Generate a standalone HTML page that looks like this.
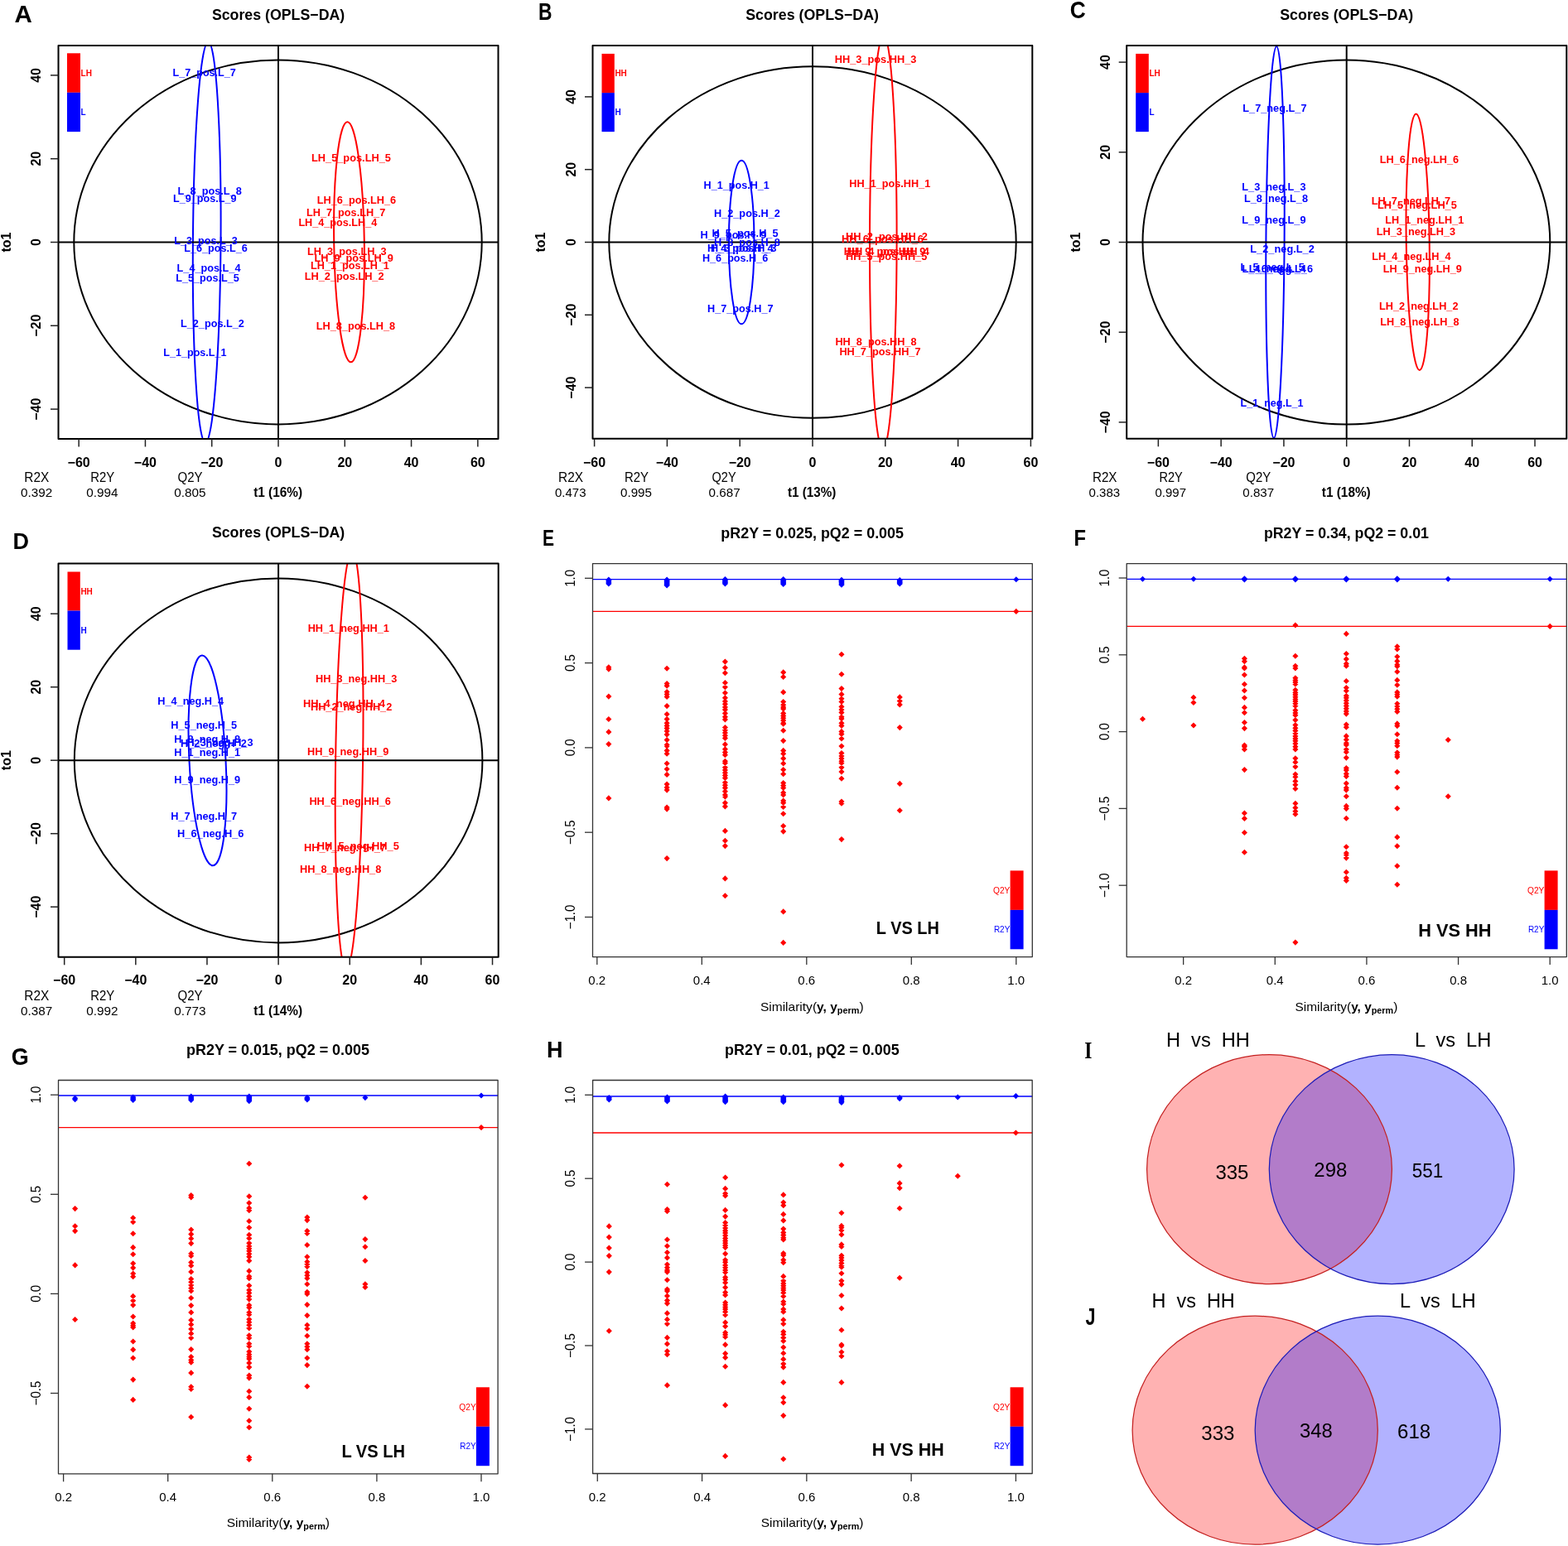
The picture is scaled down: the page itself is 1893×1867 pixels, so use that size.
<!DOCTYPE html>
<html><head><meta charset="utf-8"><title>OPLS-DA figure</title>
<style>
html,body{margin:0;padding:0;background:#fff;}
svg{display:block;}
text{font-family:'Liberation Sans', Arial, Helvetica, sans-serif;}
</style></head>
<body>
<svg width="1893" height="1867" viewBox="0 0 1893 1867">
<rect x="0" y="0" width="1893" height="1867" fill="#fff"/>
<clipPath id="c1"><rect x="70.50" y="54.90" width="531.00" height="475.10"/></clipPath>
<text x="17.50" y="27.40" style="font-size:29.50px;font-weight:bold;">A</text>
<text x="255.90" y="23.60" style="font-size:18.60px;font-weight:bold;" textLength="160.30" lengthAdjust="spacingAndGlyphs">Scores (OPLS−DA)</text>
<g clip-path="url(#c1)"><ellipse cx="335.50" cy="292.40" rx="246.20" ry="220.00" fill="none" stroke="#000" stroke-width="2.00" /></g>
<g clip-path="url(#c1)"><ellipse cx="249.70" cy="292.50" rx="16.80" ry="242.00" fill="none" stroke="#0000ff" stroke-width="2.00" transform="rotate(0.410 249.70 292.50)" /></g>
<g clip-path="url(#c1)"><ellipse cx="421.50" cy="292.30" rx="18.30" ry="145.00" fill="none" stroke="#ff0000" stroke-width="2.00" transform="rotate(-0.850 421.50 292.30)" /></g>
<line x1="336.00" y1="54.90" x2="336.00" y2="530.00" stroke="#000" stroke-width="2.00" />
<line x1="70.50" y1="292.50" x2="601.50" y2="292.50" stroke="#000" stroke-width="2.00" />
<text x="208.50" y="92.20" style="font-size:12.70px;font-weight:bold;" fill="#0000ff" textLength="76.30" lengthAdjust="spacingAndGlyphs">L_7_pos.L_7</text>
<text x="214.60" y="234.50" style="font-size:12.70px;font-weight:bold;" fill="#0000ff" textLength="77.20" lengthAdjust="spacingAndGlyphs">L_8_pos.L_8</text>
<text x="209.00" y="243.80" style="font-size:12.70px;font-weight:bold;" fill="#0000ff" textLength="76.50" lengthAdjust="spacingAndGlyphs">L_9_pos.L_9</text>
<text x="210.30" y="295.40" style="font-size:12.70px;font-weight:bold;" fill="#0000ff" textLength="76.50" lengthAdjust="spacingAndGlyphs">L_3_pos.L_3</text>
<text x="222.30" y="304.40" style="font-size:12.70px;font-weight:bold;" fill="#0000ff" textLength="76.50" lengthAdjust="spacingAndGlyphs">L_6_pos.L_6</text>
<text x="213.60" y="328.00" style="font-size:12.70px;font-weight:bold;" fill="#0000ff" textLength="76.90" lengthAdjust="spacingAndGlyphs">L_4_pos.L_4</text>
<text x="212.30" y="339.60" style="font-size:12.70px;font-weight:bold;" fill="#0000ff" textLength="76.50" lengthAdjust="spacingAndGlyphs">L_5_pos.L_5</text>
<text x="218.00" y="394.50" style="font-size:12.70px;font-weight:bold;" fill="#0000ff" textLength="76.80" lengthAdjust="spacingAndGlyphs">L_2_pos.L_2</text>
<text x="197.30" y="430.20" style="font-size:12.70px;font-weight:bold;" fill="#0000ff" textLength="76.20" lengthAdjust="spacingAndGlyphs">L_1_pos.L_1</text>
<text x="376.00" y="194.90" style="font-size:12.70px;font-weight:bold;" fill="#ff0000" textLength="95.90" lengthAdjust="spacingAndGlyphs">LH_5_pos.LH_5</text>
<text x="382.70" y="246.20" style="font-size:12.70px;font-weight:bold;" fill="#ff0000" textLength="95.50" lengthAdjust="spacingAndGlyphs">LH_6_pos.LH_6</text>
<text x="370.00" y="261.40" style="font-size:12.70px;font-weight:bold;" fill="#ff0000" textLength="95.20" lengthAdjust="spacingAndGlyphs">LH_7_pos.LH_7</text>
<text x="360.40" y="273.10" style="font-size:12.70px;font-weight:bold;" fill="#ff0000" textLength="94.80" lengthAdjust="spacingAndGlyphs">LH_4_pos.LH_4</text>
<text x="371.00" y="307.70" style="font-size:12.70px;font-weight:bold;" fill="#ff0000" textLength="95.60" lengthAdjust="spacingAndGlyphs">LH_3_pos.LH_3</text>
<text x="379.40" y="316.00" style="font-size:12.70px;font-weight:bold;" fill="#ff0000" textLength="95.50" lengthAdjust="spacingAndGlyphs">LH_9_pos.LH_9</text>
<text x="375.00" y="325.30" style="font-size:12.70px;font-weight:bold;" fill="#ff0000" textLength="94.90" lengthAdjust="spacingAndGlyphs">LH_1_pos.LH_1</text>
<text x="367.70" y="338.00" style="font-size:12.70px;font-weight:bold;" fill="#ff0000" textLength="95.90" lengthAdjust="spacingAndGlyphs">LH_2_pos.LH_2</text>
<text x="381.70" y="397.50" style="font-size:12.70px;font-weight:bold;" fill="#ff0000" textLength="95.50" lengthAdjust="spacingAndGlyphs">LH_8_pos.LH_8</text>
<rect x="81.00" y="64.30" width="16.00" height="47.50" fill="#ff0000" />
<rect x="81.00" y="111.80" width="16.00" height="47.30" fill="#0000ff" />
<text x="97.60" y="91.65" style="font-size:10.00px;font-weight:bold;" fill="#ff0000">LH</text>
<text x="97.60" y="139.05" style="font-size:10.00px;font-weight:bold;" fill="#0000ff">L</text>
<rect x="70.50" y="54.90" width="531.00" height="475.10" fill="none" stroke="#000" stroke-width="2.00" stroke-linejoin="round"/>
<line x1="95.16" y1="530.00" x2="95.16" y2="539.50" stroke="#222" stroke-width="1.50" />
<text x="95.16" y="563.50" style="font-size:16.00px;font-weight:bold;" text-anchor="middle">−60</text>
<line x1="175.44" y1="530.00" x2="175.44" y2="539.50" stroke="#222" stroke-width="1.50" />
<text x="175.44" y="563.50" style="font-size:16.00px;font-weight:bold;" text-anchor="middle">−40</text>
<line x1="255.72" y1="530.00" x2="255.72" y2="539.50" stroke="#222" stroke-width="1.50" />
<text x="255.72" y="563.50" style="font-size:16.00px;font-weight:bold;" text-anchor="middle">−20</text>
<line x1="336.00" y1="530.00" x2="336.00" y2="539.50" stroke="#222" stroke-width="1.50" />
<text x="336.00" y="563.50" style="font-size:16.00px;font-weight:bold;" text-anchor="middle">0</text>
<line x1="416.28" y1="530.00" x2="416.28" y2="539.50" stroke="#222" stroke-width="1.50" />
<text x="416.28" y="563.50" style="font-size:16.00px;font-weight:bold;" text-anchor="middle">20</text>
<line x1="496.56" y1="530.00" x2="496.56" y2="539.50" stroke="#222" stroke-width="1.50" />
<text x="496.56" y="563.50" style="font-size:16.00px;font-weight:bold;" text-anchor="middle">40</text>
<line x1="576.84" y1="530.00" x2="576.84" y2="539.50" stroke="#222" stroke-width="1.50" />
<text x="576.84" y="563.50" style="font-size:16.00px;font-weight:bold;" text-anchor="middle">60</text>
<line x1="70.50" y1="494.10" x2="61.00" y2="494.10" stroke="#222" stroke-width="1.50" />
<text transform="translate(49.30,494.10) rotate(-90)" x="0" y="0" style="font-size:16.00px;font-weight:bold;" text-anchor="middle">−40</text>
<line x1="70.50" y1="393.30" x2="61.00" y2="393.30" stroke="#222" stroke-width="1.50" />
<text transform="translate(49.30,393.30) rotate(-90)" x="0" y="0" style="font-size:16.00px;font-weight:bold;" text-anchor="middle">−20</text>
<line x1="70.50" y1="292.50" x2="61.00" y2="292.50" stroke="#222" stroke-width="1.50" />
<text transform="translate(49.30,292.50) rotate(-90)" x="0" y="0" style="font-size:16.00px;font-weight:bold;" text-anchor="middle">0</text>
<line x1="70.50" y1="191.70" x2="61.00" y2="191.70" stroke="#222" stroke-width="1.50" />
<text transform="translate(49.30,191.70) rotate(-90)" x="0" y="0" style="font-size:16.00px;font-weight:bold;" text-anchor="middle">20</text>
<line x1="70.50" y1="90.90" x2="61.00" y2="90.90" stroke="#222" stroke-width="1.50" />
<text transform="translate(49.30,90.90) rotate(-90)" x="0" y="0" style="font-size:16.00px;font-weight:bold;" text-anchor="middle">40</text>
<text transform="translate(13.30,292.50) rotate(-90)" x="0" y="0" style="font-size:16.00px;font-weight:bold;" text-anchor="middle">to1</text>
<text x="29.30" y="581.90" style="font-size:16.20px;" textLength="29.90" lengthAdjust="spacingAndGlyphs">R2X</text>
<text x="109.20" y="581.90" style="font-size:16.20px;" textLength="28.90" lengthAdjust="spacingAndGlyphs">R2Y</text>
<text x="214.60" y="581.90" style="font-size:16.20px;" textLength="30.00" lengthAdjust="spacingAndGlyphs">Q2Y</text>
<text x="25.00" y="600.30" style="font-size:15.40px;" textLength="38.20" lengthAdjust="spacingAndGlyphs">0.392</text>
<text x="104.20" y="600.30" style="font-size:15.40px;" textLength="38.20" lengthAdjust="spacingAndGlyphs">0.994</text>
<text x="210.30" y="600.30" style="font-size:15.40px;" textLength="38.30" lengthAdjust="spacingAndGlyphs">0.805</text>
<text x="306.20" y="600.30" style="font-size:16.00px;font-weight:bold;" textLength="58.90" lengthAdjust="spacingAndGlyphs">t1 (16%)</text>
<clipPath id="c2"><rect x="715.50" y="54.90" width="530.80" height="474.90"/></clipPath>
<text x="650.00" y="23.80" style="font-size:29.00px;font-weight:bold;" textLength="16.50" lengthAdjust="spacingAndGlyphs">B</text>
<text x="900.20" y="23.60" style="font-size:18.60px;font-weight:bold;" textLength="160.80" lengthAdjust="spacingAndGlyphs">Scores (OPLS−DA)</text>
<g clip-path="url(#c2)"><ellipse cx="981.00" cy="292.50" rx="245.70" ry="212.30" fill="none" stroke="#000" stroke-width="2.00" /></g>
<g clip-path="url(#c2)"><ellipse cx="895.20" cy="292.50" rx="15.30" ry="98.80" fill="none" stroke="#0000ff" stroke-width="2.00" /></g>
<g clip-path="url(#c2)"><ellipse cx="1066.30" cy="292.50" rx="16.30" ry="250.00" fill="none" stroke="#ff0000" stroke-width="2.00" transform="rotate(0.100 1066.30 292.50)" /></g>
<line x1="981.00" y1="54.90" x2="981.00" y2="529.80" stroke="#000" stroke-width="2.00" />
<line x1="715.50" y1="292.50" x2="1246.30" y2="292.50" stroke="#000" stroke-width="2.00" />
<text x="849.60" y="228.20" style="font-size:12.70px;font-weight:bold;" fill="#0000ff" textLength="79.20" lengthAdjust="spacingAndGlyphs">H_1_pos.H_1</text>
<text x="862.00" y="262.40" style="font-size:12.70px;font-weight:bold;" fill="#0000ff" textLength="79.80" lengthAdjust="spacingAndGlyphs">H_2_pos.H_2</text>
<text x="859.60" y="286.40" style="font-size:12.70px;font-weight:bold;" fill="#0000ff" textLength="79.90" lengthAdjust="spacingAndGlyphs">H_5_pos.H_5</text>
<text x="845.60" y="287.70" style="font-size:12.70px;font-weight:bold;" fill="#0000ff" textLength="79.70" lengthAdjust="spacingAndGlyphs">H_9_pos.H_9</text>
<text x="862.00" y="296.50" style="font-size:12.70px;font-weight:bold;" fill="#0000ff" textLength="79.80" lengthAdjust="spacingAndGlyphs">H_8_pos.H_8</text>
<text x="854.00" y="303.70" style="font-size:12.70px;font-weight:bold;" fill="#0000ff" textLength="79.50" lengthAdjust="spacingAndGlyphs">H_4_pos.H_4</text>
<text x="858.00" y="304.20" style="font-size:12.70px;font-weight:bold;" fill="#0000ff" textLength="79.50" lengthAdjust="spacingAndGlyphs">H_3_pos.H_3</text>
<text x="848.00" y="316.30" style="font-size:12.70px;font-weight:bold;" fill="#0000ff" textLength="79.20" lengthAdjust="spacingAndGlyphs">H_6_pos.H_6</text>
<text x="854.00" y="376.90" style="font-size:12.70px;font-weight:bold;" fill="#0000ff" textLength="79.50" lengthAdjust="spacingAndGlyphs">H_7_pos.H_7</text>
<text x="1007.70" y="75.70" style="font-size:12.70px;font-weight:bold;" fill="#ff0000" textLength="98.80" lengthAdjust="spacingAndGlyphs">HH_3_pos.HH_3</text>
<text x="1025.30" y="225.50" style="font-size:12.70px;font-weight:bold;" fill="#ff0000" textLength="97.90" lengthAdjust="spacingAndGlyphs">HH_1_pos.HH_1</text>
<text x="1021.00" y="289.70" style="font-size:12.70px;font-weight:bold;" fill="#ff0000" textLength="99.00" lengthAdjust="spacingAndGlyphs">HH_2_pos.HH_2</text>
<text x="1016.00" y="293.00" style="font-size:12.70px;font-weight:bold;" fill="#ff0000" textLength="99.00" lengthAdjust="spacingAndGlyphs">HH_6_pos.HH_6</text>
<text x="1018.70" y="307.70" style="font-size:12.70px;font-weight:bold;" fill="#ff0000" textLength="98.80" lengthAdjust="spacingAndGlyphs">HH_9_pos.HH_9</text>
<text x="1022.70" y="307.70" style="font-size:12.70px;font-weight:bold;" fill="#ff0000" textLength="99.10" lengthAdjust="spacingAndGlyphs">HH_4_pos.HH_4</text>
<text x="1021.00" y="314.20" style="font-size:12.70px;font-weight:bold;" fill="#ff0000" textLength="98.20" lengthAdjust="spacingAndGlyphs">HH_5_pos.HH_5</text>
<text x="1008.40" y="416.80" style="font-size:12.70px;font-weight:bold;" fill="#ff0000" textLength="98.10" lengthAdjust="spacingAndGlyphs">HH_8_pos.HH_8</text>
<text x="1013.40" y="428.80" style="font-size:12.70px;font-weight:bold;" fill="#ff0000" textLength="98.10" lengthAdjust="spacingAndGlyphs">HH_7_pos.HH_7</text>
<rect x="726.50" y="64.90" width="15.30" height="47.20" fill="#ff0000" />
<rect x="726.50" y="112.10" width="15.30" height="47.00" fill="#0000ff" />
<text x="742.40" y="92.10" style="font-size:10.00px;font-weight:bold;" fill="#ff0000">HH</text>
<text x="742.40" y="139.20" style="font-size:10.00px;font-weight:bold;" fill="#0000ff">H</text>
<rect x="715.50" y="54.90" width="530.80" height="474.90" fill="none" stroke="#000" stroke-width="2.00" stroke-linejoin="round"/>
<line x1="717.60" y1="529.80" x2="717.60" y2="539.30" stroke="#222" stroke-width="1.50" />
<text x="717.60" y="563.50" style="font-size:16.00px;font-weight:bold;" text-anchor="middle">−60</text>
<line x1="805.40" y1="529.80" x2="805.40" y2="539.30" stroke="#222" stroke-width="1.50" />
<text x="805.40" y="563.50" style="font-size:16.00px;font-weight:bold;" text-anchor="middle">−40</text>
<line x1="893.20" y1="529.80" x2="893.20" y2="539.30" stroke="#222" stroke-width="1.50" />
<text x="893.20" y="563.50" style="font-size:16.00px;font-weight:bold;" text-anchor="middle">−20</text>
<line x1="981.00" y1="529.80" x2="981.00" y2="539.30" stroke="#222" stroke-width="1.50" />
<text x="981.00" y="563.50" style="font-size:16.00px;font-weight:bold;" text-anchor="middle">0</text>
<line x1="1068.80" y1="529.80" x2="1068.80" y2="539.30" stroke="#222" stroke-width="1.50" />
<text x="1068.80" y="563.50" style="font-size:16.00px;font-weight:bold;" text-anchor="middle">20</text>
<line x1="1156.60" y1="529.80" x2="1156.60" y2="539.30" stroke="#222" stroke-width="1.50" />
<text x="1156.60" y="563.50" style="font-size:16.00px;font-weight:bold;" text-anchor="middle">40</text>
<line x1="1244.40" y1="529.80" x2="1244.40" y2="539.30" stroke="#222" stroke-width="1.50" />
<text x="1244.40" y="563.50" style="font-size:16.00px;font-weight:bold;" text-anchor="middle">60</text>
<line x1="715.50" y1="468.10" x2="706.00" y2="468.10" stroke="#222" stroke-width="1.50" />
<text transform="translate(695.00,468.10) rotate(-90)" x="0" y="0" style="font-size:16.00px;font-weight:bold;" text-anchor="middle">−40</text>
<line x1="715.50" y1="380.30" x2="706.00" y2="380.30" stroke="#222" stroke-width="1.50" />
<text transform="translate(695.00,380.30) rotate(-90)" x="0" y="0" style="font-size:16.00px;font-weight:bold;" text-anchor="middle">−20</text>
<line x1="715.50" y1="292.50" x2="706.00" y2="292.50" stroke="#222" stroke-width="1.50" />
<text transform="translate(695.00,292.50) rotate(-90)" x="0" y="0" style="font-size:16.00px;font-weight:bold;" text-anchor="middle">0</text>
<line x1="715.50" y1="204.70" x2="706.00" y2="204.70" stroke="#222" stroke-width="1.50" />
<text transform="translate(695.00,204.70) rotate(-90)" x="0" y="0" style="font-size:16.00px;font-weight:bold;" text-anchor="middle">20</text>
<line x1="715.50" y1="116.90" x2="706.00" y2="116.90" stroke="#222" stroke-width="1.50" />
<text transform="translate(695.00,116.90) rotate(-90)" x="0" y="0" style="font-size:16.00px;font-weight:bold;" text-anchor="middle">40</text>
<text transform="translate(658.30,292.50) rotate(-90)" x="0" y="0" style="font-size:16.00px;font-weight:bold;" text-anchor="middle">to1</text>
<text x="674.00" y="581.90" style="font-size:16.20px;" textLength="30.00" lengthAdjust="spacingAndGlyphs">R2X</text>
<text x="754.00" y="581.90" style="font-size:16.20px;" textLength="29.00" lengthAdjust="spacingAndGlyphs">R2Y</text>
<text x="859.60" y="581.90" style="font-size:16.20px;" textLength="29.00" lengthAdjust="spacingAndGlyphs">Q2Y</text>
<text x="670.00" y="600.30" style="font-size:15.40px;" textLength="37.50" lengthAdjust="spacingAndGlyphs">0.473</text>
<text x="749.00" y="600.30" style="font-size:15.40px;" textLength="38.00" lengthAdjust="spacingAndGlyphs">0.995</text>
<text x="855.60" y="600.30" style="font-size:15.40px;" textLength="38.00" lengthAdjust="spacingAndGlyphs">0.687</text>
<text x="951.00" y="600.30" style="font-size:16.00px;font-weight:bold;" textLength="58.40" lengthAdjust="spacingAndGlyphs">t1 (13%)</text>
<clipPath id="c3"><rect x="1360.20" y="54.90" width="531.10" height="474.90"/></clipPath>
<text x="1291.80" y="22.30" style="font-size:30.00px;font-weight:bold;" textLength="19.00" lengthAdjust="spacingAndGlyphs">C</text>
<text x="1545.20" y="23.60" style="font-size:18.60px;font-weight:bold;" textLength="161.10" lengthAdjust="spacingAndGlyphs">Scores (OPLS−DA)</text>
<g clip-path="url(#c3)"><ellipse cx="1625.40" cy="292.50" rx="245.90" ry="220.00" fill="none" stroke="#000" stroke-width="2.00" /></g>
<g clip-path="url(#c3)"><ellipse cx="1539.50" cy="292.50" rx="11.10" ry="236.50" fill="none" stroke="#0000ff" stroke-width="2.00" transform="rotate(0.390 1539.50 292.50)" /></g>
<g clip-path="url(#c3)"><ellipse cx="1711.70" cy="292.20" rx="14.00" ry="154.80" fill="none" stroke="#ff0000" stroke-width="2.00" transform="rotate(-0.800 1711.70 292.20)" /></g>
<line x1="1625.70" y1="54.90" x2="1625.70" y2="529.80" stroke="#000" stroke-width="2.00" />
<line x1="1360.20" y1="292.50" x2="1891.30" y2="292.50" stroke="#000" stroke-width="2.00" />
<text x="1500.30" y="135.00" style="font-size:12.70px;font-weight:bold;" fill="#0000ff" textLength="77.20" lengthAdjust="spacingAndGlyphs">L_7_neg.L_7</text>
<text x="1499.30" y="229.50" style="font-size:12.70px;font-weight:bold;" fill="#0000ff" textLength="77.20" lengthAdjust="spacingAndGlyphs">L_3_neg.L_3</text>
<text x="1502.00" y="243.80" style="font-size:12.70px;font-weight:bold;" fill="#0000ff" textLength="77.00" lengthAdjust="spacingAndGlyphs">L_8_neg.L_8</text>
<text x="1499.30" y="270.40" style="font-size:12.70px;font-weight:bold;" fill="#0000ff" textLength="77.20" lengthAdjust="spacingAndGlyphs">L_9_neg.L_9</text>
<text x="1509.30" y="305.40" style="font-size:12.70px;font-weight:bold;" fill="#0000ff" textLength="77.50" lengthAdjust="spacingAndGlyphs">L_2_neg.L_2</text>
<text x="1497.60" y="327.20" style="font-size:12.70px;font-weight:bold;" fill="#0000ff" textLength="77.20" lengthAdjust="spacingAndGlyphs">L_5_neg.L_5</text>
<text x="1499.50" y="329.20" style="font-size:12.70px;font-weight:bold;" fill="#0000ff" textLength="77.50" lengthAdjust="spacingAndGlyphs">L_4_neg.L_4</text>
<text x="1507.80" y="329.20" style="font-size:12.70px;font-weight:bold;" fill="#0000ff" textLength="77.20" lengthAdjust="spacingAndGlyphs">L_6_neg.L_6</text>
<text x="1497.60" y="490.70" style="font-size:12.70px;font-weight:bold;" fill="#0000ff" textLength="75.90" lengthAdjust="spacingAndGlyphs">L_1_neg.L_1</text>
<text x="1665.70" y="196.50" style="font-size:12.70px;font-weight:bold;" fill="#ff0000" textLength="95.50" lengthAdjust="spacingAndGlyphs">LH_6_neg.LH_6</text>
<text x="1655.70" y="247.20" style="font-size:12.70px;font-weight:bold;" fill="#ff0000" textLength="95.50" lengthAdjust="spacingAndGlyphs">LH_7_neg.LH_7</text>
<text x="1663.00" y="252.20" style="font-size:12.70px;font-weight:bold;" fill="#ff0000" textLength="95.80" lengthAdjust="spacingAndGlyphs">LH_5_neg.LH_5</text>
<text x="1672.30" y="270.40" style="font-size:12.70px;font-weight:bold;" fill="#ff0000" textLength="94.90" lengthAdjust="spacingAndGlyphs">LH_1_neg.LH_1</text>
<text x="1661.70" y="284.40" style="font-size:12.70px;font-weight:bold;" fill="#ff0000" textLength="95.50" lengthAdjust="spacingAndGlyphs">LH_3_neg.LH_3</text>
<text x="1656.30" y="314.30" style="font-size:12.70px;font-weight:bold;" fill="#ff0000" textLength="95.20" lengthAdjust="spacingAndGlyphs">LH_4_neg.LH_4</text>
<text x="1669.70" y="328.70" style="font-size:12.70px;font-weight:bold;" fill="#ff0000" textLength="95.10" lengthAdjust="spacingAndGlyphs">LH_9_neg.LH_9</text>
<text x="1665.00" y="373.60" style="font-size:12.70px;font-weight:bold;" fill="#ff0000" textLength="95.50" lengthAdjust="spacingAndGlyphs">LH_2_neg.LH_2</text>
<text x="1666.30" y="392.90" style="font-size:12.70px;font-weight:bold;" fill="#ff0000" textLength="95.20" lengthAdjust="spacingAndGlyphs">LH_8_neg.LH_8</text>
<rect x="1371.20" y="64.90" width="15.60" height="47.20" fill="#ff0000" />
<rect x="1371.20" y="112.10" width="15.60" height="47.00" fill="#0000ff" />
<text x="1387.40" y="92.10" style="font-size:10.00px;font-weight:bold;" fill="#ff0000">LH</text>
<text x="1387.40" y="139.20" style="font-size:10.00px;font-weight:bold;" fill="#0000ff">L</text>
<rect x="1360.20" y="54.90" width="531.10" height="474.90" fill="none" stroke="#000" stroke-width="2.00" stroke-linejoin="round"/>
<line x1="1398.36" y1="529.80" x2="1398.36" y2="539.30" stroke="#222" stroke-width="1.50" />
<text x="1398.36" y="563.50" style="font-size:16.00px;font-weight:bold;" text-anchor="middle">−60</text>
<line x1="1474.14" y1="529.80" x2="1474.14" y2="539.30" stroke="#222" stroke-width="1.50" />
<text x="1474.14" y="563.50" style="font-size:16.00px;font-weight:bold;" text-anchor="middle">−40</text>
<line x1="1549.92" y1="529.80" x2="1549.92" y2="539.30" stroke="#222" stroke-width="1.50" />
<text x="1549.92" y="563.50" style="font-size:16.00px;font-weight:bold;" text-anchor="middle">−20</text>
<line x1="1625.70" y1="529.80" x2="1625.70" y2="539.30" stroke="#222" stroke-width="1.50" />
<text x="1625.70" y="563.50" style="font-size:16.00px;font-weight:bold;" text-anchor="middle">0</text>
<line x1="1701.48" y1="529.80" x2="1701.48" y2="539.30" stroke="#222" stroke-width="1.50" />
<text x="1701.48" y="563.50" style="font-size:16.00px;font-weight:bold;" text-anchor="middle">20</text>
<line x1="1777.26" y1="529.80" x2="1777.26" y2="539.30" stroke="#222" stroke-width="1.50" />
<text x="1777.26" y="563.50" style="font-size:16.00px;font-weight:bold;" text-anchor="middle">40</text>
<line x1="1853.04" y1="529.80" x2="1853.04" y2="539.30" stroke="#222" stroke-width="1.50" />
<text x="1853.04" y="563.50" style="font-size:16.00px;font-weight:bold;" text-anchor="middle">60</text>
<line x1="1360.20" y1="509.90" x2="1350.70" y2="509.90" stroke="#222" stroke-width="1.50" />
<text transform="translate(1339.50,509.90) rotate(-90)" x="0" y="0" style="font-size:16.00px;font-weight:bold;" text-anchor="middle">−40</text>
<line x1="1360.20" y1="401.20" x2="1350.70" y2="401.20" stroke="#222" stroke-width="1.50" />
<text transform="translate(1339.50,401.20) rotate(-90)" x="0" y="0" style="font-size:16.00px;font-weight:bold;" text-anchor="middle">−20</text>
<line x1="1360.20" y1="292.50" x2="1350.70" y2="292.50" stroke="#222" stroke-width="1.50" />
<text transform="translate(1339.50,292.50) rotate(-90)" x="0" y="0" style="font-size:16.00px;font-weight:bold;" text-anchor="middle">0</text>
<line x1="1360.20" y1="183.80" x2="1350.70" y2="183.80" stroke="#222" stroke-width="1.50" />
<text transform="translate(1339.50,183.80) rotate(-90)" x="0" y="0" style="font-size:16.00px;font-weight:bold;" text-anchor="middle">20</text>
<line x1="1360.20" y1="75.10" x2="1350.70" y2="75.10" stroke="#222" stroke-width="1.50" />
<text transform="translate(1339.50,75.10) rotate(-90)" x="0" y="0" style="font-size:16.00px;font-weight:bold;" text-anchor="middle">40</text>
<text transform="translate(1303.60,292.50) rotate(-90)" x="0" y="0" style="font-size:16.00px;font-weight:bold;" text-anchor="middle">to1</text>
<text x="1318.90" y="581.90" style="font-size:16.20px;" textLength="29.60" lengthAdjust="spacingAndGlyphs">R2X</text>
<text x="1399.40" y="581.90" style="font-size:16.20px;" textLength="28.30" lengthAdjust="spacingAndGlyphs">R2Y</text>
<text x="1504.30" y="581.90" style="font-size:16.20px;" textLength="29.90" lengthAdjust="spacingAndGlyphs">Q2Y</text>
<text x="1314.60" y="600.30" style="font-size:15.40px;" textLength="37.60" lengthAdjust="spacingAndGlyphs">0.383</text>
<text x="1394.40" y="600.30" style="font-size:15.40px;" textLength="37.60" lengthAdjust="spacingAndGlyphs">0.997</text>
<text x="1500.30" y="600.30" style="font-size:15.40px;" textLength="37.90" lengthAdjust="spacingAndGlyphs">0.837</text>
<text x="1595.80" y="600.30" style="font-size:16.00px;font-weight:bold;" textLength="58.90" lengthAdjust="spacingAndGlyphs">t1 (18%)</text>
<clipPath id="c4"><rect x="70.50" y="680.60" width="531.20" height="475.20"/></clipPath>
<text x="15.50" y="662.60" style="font-size:27.00px;font-weight:bold;">D</text>
<text x="255.90" y="649.30" style="font-size:18.60px;font-weight:bold;" textLength="160.30" lengthAdjust="spacingAndGlyphs">Scores (OPLS−DA)</text>
<g clip-path="url(#c4)"><ellipse cx="336.10" cy="918.40" rx="246.30" ry="220.00" fill="none" stroke="#000" stroke-width="2.00" /></g>
<g clip-path="url(#c4)"><ellipse cx="250.50" cy="918.40" rx="22.00" ry="127.00" fill="none" stroke="#0000ff" stroke-width="2.00" transform="rotate(-3.000 250.50 918.40)" /></g>
<g clip-path="url(#c4)"><ellipse cx="421.60" cy="918.20" rx="16.50" ry="252.70" fill="none" stroke="#ff0000" stroke-width="2.00" transform="rotate(0.820 421.60 918.20)" /></g>
<line x1="336.10" y1="680.60" x2="336.10" y2="1155.80" stroke="#000" stroke-width="2.00" />
<line x1="70.50" y1="918.20" x2="601.70" y2="918.20" stroke="#000" stroke-width="2.00" />
<text x="190.30" y="850.50" style="font-size:12.70px;font-weight:bold;" fill="#0000ff" textLength="79.90" lengthAdjust="spacingAndGlyphs">H_4_neg.H_4</text>
<text x="206.30" y="880.40" style="font-size:12.70px;font-weight:bold;" fill="#0000ff" textLength="79.90" lengthAdjust="spacingAndGlyphs">H_5_neg.H_5</text>
<text x="210.30" y="897.10" style="font-size:12.70px;font-weight:bold;" fill="#0000ff" textLength="79.90" lengthAdjust="spacingAndGlyphs">H_8_neg.H_8</text>
<text x="218.00" y="902.10" style="font-size:12.70px;font-weight:bold;" fill="#0000ff" textLength="79.90" lengthAdjust="spacingAndGlyphs">H_2_neg.H_2</text>
<text x="225.50" y="901.20" style="font-size:12.70px;font-weight:bold;" fill="#0000ff" textLength="80.00" lengthAdjust="spacingAndGlyphs">H_3_neg.H_3</text>
<text x="210.30" y="913.10" style="font-size:12.70px;font-weight:bold;" fill="#0000ff" textLength="79.90" lengthAdjust="spacingAndGlyphs">H_1_neg.H_1</text>
<text x="210.30" y="946.00" style="font-size:12.70px;font-weight:bold;" fill="#0000ff" textLength="79.90" lengthAdjust="spacingAndGlyphs">H_9_neg.H_9</text>
<text x="206.30" y="990.20" style="font-size:12.70px;font-weight:bold;" fill="#0000ff" textLength="79.90" lengthAdjust="spacingAndGlyphs">H_7_neg.H_7</text>
<text x="214.00" y="1010.90" style="font-size:12.70px;font-weight:bold;" fill="#0000ff" textLength="80.50" lengthAdjust="spacingAndGlyphs">H_6_neg.H_6</text>
<text x="371.70" y="763.30" style="font-size:12.70px;font-weight:bold;" fill="#ff0000" textLength="98.20" lengthAdjust="spacingAndGlyphs">HH_1_neg.HH_1</text>
<text x="381.00" y="823.90" style="font-size:12.70px;font-weight:bold;" fill="#ff0000" textLength="98.20" lengthAdjust="spacingAndGlyphs">HH_3_neg.HH_3</text>
<text x="366.00" y="853.80" style="font-size:12.70px;font-weight:bold;" fill="#ff0000" textLength="98.90" lengthAdjust="spacingAndGlyphs">HH_4_neg.HH_4</text>
<text x="375.00" y="858.20" style="font-size:12.70px;font-weight:bold;" fill="#ff0000" textLength="98.20" lengthAdjust="spacingAndGlyphs">HH_2_neg.HH_2</text>
<text x="371.00" y="912.40" style="font-size:12.70px;font-weight:bold;" fill="#ff0000" textLength="98.20" lengthAdjust="spacingAndGlyphs">HH_9_neg.HH_9</text>
<text x="373.40" y="972.00" style="font-size:12.70px;font-weight:bold;" fill="#ff0000" textLength="98.50" lengthAdjust="spacingAndGlyphs">HH_6_neg.HH_6</text>
<text x="382.70" y="1026.20" style="font-size:12.70px;font-weight:bold;" fill="#ff0000" textLength="99.20" lengthAdjust="spacingAndGlyphs">HH_5_neg.HH_5</text>
<text x="367.00" y="1027.50" style="font-size:12.70px;font-weight:bold;" fill="#ff0000" textLength="98.90" lengthAdjust="spacingAndGlyphs">HH_7_neg.HH_7</text>
<text x="362.00" y="1053.50" style="font-size:12.70px;font-weight:bold;" fill="#ff0000" textLength="98.20" lengthAdjust="spacingAndGlyphs">HH_8_neg.HH_8</text>
<rect x="81.50" y="690.50" width="15.30" height="47.00" fill="#ff0000" />
<rect x="81.50" y="737.50" width="15.30" height="47.20" fill="#0000ff" />
<text x="97.40" y="717.60" style="font-size:10.00px;font-weight:bold;" fill="#ff0000">HH</text>
<text x="97.40" y="764.70" style="font-size:10.00px;font-weight:bold;" fill="#0000ff">H</text>
<rect x="70.50" y="680.60" width="531.20" height="475.20" fill="none" stroke="#000" stroke-width="2.00" stroke-linejoin="round"/>
<line x1="77.68" y1="1155.80" x2="77.68" y2="1165.30" stroke="#222" stroke-width="1.50" />
<text x="77.68" y="1189.20" style="font-size:16.00px;font-weight:bold;" text-anchor="middle">−60</text>
<line x1="163.82" y1="1155.80" x2="163.82" y2="1165.30" stroke="#222" stroke-width="1.50" />
<text x="163.82" y="1189.20" style="font-size:16.00px;font-weight:bold;" text-anchor="middle">−40</text>
<line x1="249.96" y1="1155.80" x2="249.96" y2="1165.30" stroke="#222" stroke-width="1.50" />
<text x="249.96" y="1189.20" style="font-size:16.00px;font-weight:bold;" text-anchor="middle">−20</text>
<line x1="336.10" y1="1155.80" x2="336.10" y2="1165.30" stroke="#222" stroke-width="1.50" />
<text x="336.10" y="1189.20" style="font-size:16.00px;font-weight:bold;" text-anchor="middle">0</text>
<line x1="422.24" y1="1155.80" x2="422.24" y2="1165.30" stroke="#222" stroke-width="1.50" />
<text x="422.24" y="1189.20" style="font-size:16.00px;font-weight:bold;" text-anchor="middle">20</text>
<line x1="508.38" y1="1155.80" x2="508.38" y2="1165.30" stroke="#222" stroke-width="1.50" />
<text x="508.38" y="1189.20" style="font-size:16.00px;font-weight:bold;" text-anchor="middle">40</text>
<line x1="594.52" y1="1155.80" x2="594.52" y2="1165.30" stroke="#222" stroke-width="1.50" />
<text x="594.52" y="1189.20" style="font-size:16.00px;font-weight:bold;" text-anchor="middle">60</text>
<line x1="70.50" y1="1095.20" x2="61.00" y2="1095.20" stroke="#222" stroke-width="1.50" />
<text transform="translate(49.30,1095.20) rotate(-90)" x="0" y="0" style="font-size:16.00px;font-weight:bold;" text-anchor="middle">−40</text>
<line x1="70.50" y1="1006.70" x2="61.00" y2="1006.70" stroke="#222" stroke-width="1.50" />
<text transform="translate(49.30,1006.70) rotate(-90)" x="0" y="0" style="font-size:16.00px;font-weight:bold;" text-anchor="middle">−20</text>
<line x1="70.50" y1="918.20" x2="61.00" y2="918.20" stroke="#222" stroke-width="1.50" />
<text transform="translate(49.30,918.20) rotate(-90)" x="0" y="0" style="font-size:16.00px;font-weight:bold;" text-anchor="middle">0</text>
<line x1="70.50" y1="829.70" x2="61.00" y2="829.70" stroke="#222" stroke-width="1.50" />
<text transform="translate(49.30,829.70) rotate(-90)" x="0" y="0" style="font-size:16.00px;font-weight:bold;" text-anchor="middle">20</text>
<line x1="70.50" y1="741.20" x2="61.00" y2="741.20" stroke="#222" stroke-width="1.50" />
<text transform="translate(49.30,741.20) rotate(-90)" x="0" y="0" style="font-size:16.00px;font-weight:bold;" text-anchor="middle">40</text>
<text transform="translate(13.30,918.20) rotate(-90)" x="0" y="0" style="font-size:16.00px;font-weight:bold;" text-anchor="middle">to1</text>
<text x="29.30" y="1207.60" style="font-size:16.20px;" textLength="29.90" lengthAdjust="spacingAndGlyphs">R2X</text>
<text x="109.20" y="1207.60" style="font-size:16.20px;" textLength="28.90" lengthAdjust="spacingAndGlyphs">R2Y</text>
<text x="214.60" y="1207.60" style="font-size:16.20px;" textLength="30.00" lengthAdjust="spacingAndGlyphs">Q2Y</text>
<text x="25.00" y="1226.00" style="font-size:15.40px;" textLength="38.20" lengthAdjust="spacingAndGlyphs">0.387</text>
<text x="104.20" y="1226.00" style="font-size:15.40px;" textLength="38.20" lengthAdjust="spacingAndGlyphs">0.992</text>
<text x="210.30" y="1226.00" style="font-size:15.40px;" textLength="38.30" lengthAdjust="spacingAndGlyphs">0.773</text>
<text x="306.20" y="1226.00" style="font-size:16.00px;font-weight:bold;" textLength="58.90" lengthAdjust="spacingAndGlyphs">t1 (14%)</text>
<clipPath id="c5"><rect x="715.50" y="680.60" width="530.80" height="475.00"/></clipPath>
<text x="655.00" y="659.30" style="font-size:28.50px;font-weight:bold;" textLength="14.00" lengthAdjust="spacingAndGlyphs">E</text>
<text x="870.30" y="650.20" style="font-size:18.60px;font-weight:bold;" textLength="220.70" lengthAdjust="spacingAndGlyphs">pR2Y = 0.025, pQ2 = 0.005</text>
<line x1="715.50" y1="699.60" x2="1246.30" y2="699.60" stroke="#0000ff" stroke-width="1.30" />
<line x1="715.50" y1="738.40" x2="1246.30" y2="738.40" stroke="#ff0000" stroke-width="1.30" />
<g clip-path="url(#c5)"><path fill="#ff0000" d="M734.86 802.15l3.55 3.55l-3.55 3.55l-3.55 -3.55zM734.86 804.55l3.55 3.55l-3.55 3.55l-3.55 -3.55zM734.86 837.55l3.55 3.55l-3.55 3.55l-3.55 -3.55zM734.86 864.95l3.55 3.55l-3.55 3.55l-3.55 -3.55zM734.86 880.35l3.55 3.55l-3.55 3.55l-3.55 -3.55zM734.86 895.05l3.55 3.55l-3.55 3.55l-3.55 -3.55zM734.86 960.35l3.55 3.55l-3.55 3.55l-3.55 -3.55zM805.13 803.75l3.55 3.55l-3.55 3.55l-3.55 -3.55zM805.13 821.95l3.55 3.55l-3.55 3.55l-3.55 -3.55zM805.13 824.65l3.55 3.55l-3.55 3.55l-3.55 -3.55zM805.13 831.95l3.55 3.55l-3.55 3.55l-3.55 -3.55zM805.13 834.95l3.55 3.55l-3.55 3.55l-3.55 -3.55zM805.13 837.95l3.55 3.55l-3.55 3.55l-3.55 -3.55zM805.13 849.05l3.55 3.55l-3.55 3.55l-3.55 -3.55zM805.13 858.95l3.55 3.55l-3.55 3.55l-3.55 -3.55zM805.13 864.85l3.55 3.55l-3.55 3.55l-3.55 -3.55zM805.13 869.65l3.55 3.55l-3.55 3.55l-3.55 -3.55zM805.13 872.85l3.55 3.55l-3.55 3.55l-3.55 -3.55zM805.13 876.05l3.55 3.55l-3.55 3.55l-3.55 -3.55zM805.13 879.35l3.55 3.55l-3.55 3.55l-3.55 -3.55zM805.13 883.55l3.55 3.55l-3.55 3.55l-3.55 -3.55zM805.13 890.05l3.55 3.55l-3.55 3.55l-3.55 -3.55zM805.13 895.95l3.55 3.55l-3.55 3.55l-3.55 -3.55zM805.13 897.55l3.55 3.55l-3.55 3.55l-3.55 -3.55zM805.13 902.85l3.55 3.55l-3.55 3.55l-3.55 -3.55zM805.13 906.65l3.55 3.55l-3.55 3.55l-3.55 -3.55zM805.13 918.45l3.55 3.55l-3.55 3.55l-3.55 -3.55zM805.13 925.15l3.55 3.55l-3.55 3.55l-3.55 -3.55zM805.13 931.85l3.55 3.55l-3.55 3.55l-3.55 -3.55zM805.13 943.55l3.55 3.55l-3.55 3.55l-3.55 -3.55zM805.13 947.35l3.55 3.55l-3.55 3.55l-3.55 -3.55zM805.13 950.55l3.55 3.55l-3.55 3.55l-3.55 -3.55zM805.13 971.45l3.55 3.55l-3.55 3.55l-3.55 -3.55zM805.13 973.55l3.55 3.55l-3.55 3.55l-3.55 -3.55zM805.13 1033.05l3.55 3.55l-3.55 3.55l-3.55 -3.55zM875.41 795.55l3.55 3.55l-3.55 3.55l-3.55 -3.55zM875.41 802.75l3.55 3.55l-3.55 3.55l-3.55 -3.55zM875.41 809.15l3.55 3.55l-3.55 3.55l-3.55 -3.55zM875.41 820.95l3.55 3.55l-3.55 3.55l-3.55 -3.55zM875.41 826.25l3.55 3.55l-3.55 3.55l-3.55 -3.55zM875.41 833.25l3.55 3.55l-3.55 3.55l-3.55 -3.55zM875.41 839.15l3.55 3.55l-3.55 3.55l-3.55 -3.55zM875.41 843.45l3.55 3.55l-3.55 3.55l-3.55 -3.55zM875.41 846.65l3.55 3.55l-3.55 3.55l-3.55 -3.55zM875.41 850.35l3.55 3.55l-3.55 3.55l-3.55 -3.55zM875.41 853.55l3.55 3.55l-3.55 3.55l-3.55 -3.55zM875.41 857.85l3.55 3.55l-3.55 3.55l-3.55 -3.55zM875.41 862.15l3.55 3.55l-3.55 3.55l-3.55 -3.55zM875.41 865.35l3.55 3.55l-3.55 3.55l-3.55 -3.55zM875.41 875.05l3.55 3.55l-3.55 3.55l-3.55 -3.55zM875.41 878.25l3.55 3.55l-3.55 3.55l-3.55 -3.55zM875.41 881.45l3.55 3.55l-3.55 3.55l-3.55 -3.55zM875.41 884.65l3.55 3.55l-3.55 3.55l-3.55 -3.55zM875.41 887.85l3.55 3.55l-3.55 3.55l-3.55 -3.55zM875.41 895.35l3.55 3.55l-3.55 3.55l-3.55 -3.55zM875.41 901.25l3.55 3.55l-3.55 3.55l-3.55 -3.55zM875.41 905.05l3.55 3.55l-3.55 3.55l-3.55 -3.55zM875.41 908.25l3.55 3.55l-3.55 3.55l-3.55 -3.55zM875.41 915.75l3.55 3.55l-3.55 3.55l-3.55 -3.55zM875.41 917.85l3.55 3.55l-3.55 3.55l-3.55 -3.55zM875.41 923.25l3.55 3.55l-3.55 3.55l-3.55 -3.55zM875.41 926.45l3.55 3.55l-3.55 3.55l-3.55 -3.55zM875.41 929.65l3.55 3.55l-3.55 3.55l-3.55 -3.55zM875.41 932.85l3.55 3.55l-3.55 3.55l-3.55 -3.55zM875.41 936.05l3.55 3.55l-3.55 3.55l-3.55 -3.55zM875.41 941.45l3.55 3.55l-3.55 3.55l-3.55 -3.55zM875.41 944.65l3.55 3.55l-3.55 3.55l-3.55 -3.55zM875.41 947.85l3.55 3.55l-3.55 3.55l-3.55 -3.55zM875.41 952.15l3.55 3.55l-3.55 3.55l-3.55 -3.55zM875.41 956.45l3.55 3.55l-3.55 3.55l-3.55 -3.55zM875.41 958.55l3.55 3.55l-3.55 3.55l-3.55 -3.55zM875.41 966.05l3.55 3.55l-3.55 3.55l-3.55 -3.55zM875.41 970.35l3.55 3.55l-3.55 3.55l-3.55 -3.55zM875.41 999.85l3.55 3.55l-3.55 3.55l-3.55 -3.55zM875.41 1011.65l3.55 3.55l-3.55 3.55l-3.55 -3.55zM875.41 1018.05l3.55 3.55l-3.55 3.55l-3.55 -3.55zM875.41 1057.35l3.55 3.55l-3.55 3.55l-3.55 -3.55zM875.41 1078.25l3.55 3.55l-3.55 3.55l-3.55 -3.55zM945.69 808.35l3.55 3.55l-3.55 3.55l-3.55 -3.55zM945.69 813.95l3.55 3.55l-3.55 3.55l-3.55 -3.55zM945.69 832.35l3.55 3.55l-3.55 3.55l-3.55 -3.55zM945.69 843.95l3.55 3.55l-3.55 3.55l-3.55 -3.55zM945.69 847.75l3.55 3.55l-3.55 3.55l-3.55 -3.55zM945.69 850.35l3.55 3.55l-3.55 3.55l-3.55 -3.55zM945.69 852.55l3.55 3.55l-3.55 3.55l-3.55 -3.55zM945.69 857.85l3.55 3.55l-3.55 3.55l-3.55 -3.55zM945.69 861.05l3.55 3.55l-3.55 3.55l-3.55 -3.55zM945.69 863.75l3.55 3.55l-3.55 3.55l-3.55 -3.55zM945.69 866.45l3.55 3.55l-3.55 3.55l-3.55 -3.55zM945.69 869.65l3.55 3.55l-3.55 3.55l-3.55 -3.55zM945.69 870.75l3.55 3.55l-3.55 3.55l-3.55 -3.55zM945.69 878.75l3.55 3.55l-3.55 3.55l-3.55 -3.55zM945.69 891.05l3.55 3.55l-3.55 3.55l-3.55 -3.55zM945.69 902.85l3.55 3.55l-3.55 3.55l-3.55 -3.55zM945.69 906.65l3.55 3.55l-3.55 3.55l-3.55 -3.55zM945.69 912.35l3.55 3.55l-3.55 3.55l-3.55 -3.55zM945.69 918.45l3.55 3.55l-3.55 3.55l-3.55 -3.55zM945.69 925.95l3.55 3.55l-3.55 3.55l-3.55 -3.55zM945.69 931.25l3.55 3.55l-3.55 3.55l-3.55 -3.55zM945.69 941.95l3.55 3.55l-3.55 3.55l-3.55 -3.55zM945.69 945.25l3.55 3.55l-3.55 3.55l-3.55 -3.55zM945.69 947.85l3.55 3.55l-3.55 3.55l-3.55 -3.55zM945.69 953.75l3.55 3.55l-3.55 3.55l-3.55 -3.55zM945.69 956.45l3.55 3.55l-3.55 3.55l-3.55 -3.55zM945.69 963.45l3.55 3.55l-3.55 3.55l-3.55 -3.55zM945.69 966.05l3.55 3.55l-3.55 3.55l-3.55 -3.55zM945.69 970.95l3.55 3.55l-3.55 3.55l-3.55 -3.55zM945.69 979.25l3.55 3.55l-3.55 3.55l-3.55 -3.55zM945.69 993.95l3.55 3.55l-3.55 3.55l-3.55 -3.55zM945.69 1000.55l3.55 3.55l-3.55 3.55l-3.55 -3.55zM945.69 1097.35l3.55 3.55l-3.55 3.55l-3.55 -3.55zM945.69 1134.85l3.55 3.55l-3.55 3.55l-3.55 -3.55zM1015.97 786.65l3.55 3.55l-3.55 3.55l-3.55 -3.55zM1015.97 810.75l3.55 3.55l-3.55 3.55l-3.55 -3.55zM1015.97 828.05l3.55 3.55l-3.55 3.55l-3.55 -3.55zM1015.97 834.85l3.55 3.55l-3.55 3.55l-3.55 -3.55zM1015.97 840.25l3.55 3.55l-3.55 3.55l-3.55 -3.55zM1015.97 843.95l3.55 3.55l-3.55 3.55l-3.55 -3.55zM1015.97 849.85l3.55 3.55l-3.55 3.55l-3.55 -3.55zM1015.97 853.55l3.55 3.55l-3.55 3.55l-3.55 -3.55zM1015.97 856.85l3.55 3.55l-3.55 3.55l-3.55 -3.55zM1015.97 862.15l3.55 3.55l-3.55 3.55l-3.55 -3.55zM1015.97 864.35l3.55 3.55l-3.55 3.55l-3.55 -3.55zM1015.97 869.65l3.55 3.55l-3.55 3.55l-3.55 -3.55zM1015.97 872.85l3.55 3.55l-3.55 3.55l-3.55 -3.55zM1015.97 879.85l3.55 3.55l-3.55 3.55l-3.55 -3.55zM1015.97 883.05l3.55 3.55l-3.55 3.55l-3.55 -3.55zM1015.97 888.45l3.55 3.55l-3.55 3.55l-3.55 -3.55zM1015.97 897.55l3.55 3.55l-3.55 3.55l-3.55 -3.55zM1015.97 906.05l3.55 3.55l-3.55 3.55l-3.55 -3.55zM1015.97 909.35l3.55 3.55l-3.55 3.55l-3.55 -3.55zM1015.97 912.55l3.55 3.55l-3.55 3.55l-3.55 -3.55zM1015.97 915.75l3.55 3.55l-3.55 3.55l-3.55 -3.55zM1015.97 917.85l3.55 3.55l-3.55 3.55l-3.55 -3.55zM1015.97 923.25l3.55 3.55l-3.55 3.55l-3.55 -3.55zM1015.97 928.55l3.55 3.55l-3.55 3.55l-3.55 -3.55zM1015.97 936.65l3.55 3.55l-3.55 3.55l-3.55 -3.55zM1015.97 964.45l3.55 3.55l-3.55 3.55l-3.55 -3.55zM1015.97 966.65l3.55 3.55l-3.55 3.55l-3.55 -3.55zM1015.97 1010.05l3.55 3.55l-3.55 3.55l-3.55 -3.55zM1086.24 838.35l3.55 3.55l-3.55 3.55l-3.55 -3.55zM1086.24 843.05l3.55 3.55l-3.55 3.55l-3.55 -3.55zM1086.24 847.35l3.55 3.55l-3.55 3.55l-3.55 -3.55zM1086.24 875.05l3.55 3.55l-3.55 3.55l-3.55 -3.55zM1086.24 942.85l3.55 3.55l-3.55 3.55l-3.55 -3.55zM1086.24 975.25l3.55 3.55l-3.55 3.55l-3.55 -3.55zM1226.80 734.85l3.55 3.55l-3.55 3.55l-3.55 -3.55z"/><path fill="#0000ff" d="M734.86 696.45l3.55 3.55l-3.55 3.55l-3.55 -3.55zM734.86 697.28l3.55 3.55l-3.55 3.55l-3.55 -3.55zM734.86 698.12l3.55 3.55l-3.55 3.55l-3.55 -3.55zM734.86 698.95l3.55 3.55l-3.55 3.55l-3.55 -3.55zM734.86 699.78l3.55 3.55l-3.55 3.55l-3.55 -3.55zM734.86 700.62l3.55 3.55l-3.55 3.55l-3.55 -3.55zM734.86 701.45l3.55 3.55l-3.55 3.55l-3.55 -3.55zM805.13 696.45l3.55 3.55l-3.55 3.55l-3.55 -3.55zM805.13 697.33l3.55 3.55l-3.55 3.55l-3.55 -3.55zM805.13 698.20l3.55 3.55l-3.55 3.55l-3.55 -3.55zM805.13 699.08l3.55 3.55l-3.55 3.55l-3.55 -3.55zM805.13 699.95l3.55 3.55l-3.55 3.55l-3.55 -3.55zM805.13 700.83l3.55 3.55l-3.55 3.55l-3.55 -3.55zM805.13 701.70l3.55 3.55l-3.55 3.55l-3.55 -3.55zM805.13 702.58l3.55 3.55l-3.55 3.55l-3.55 -3.55zM805.13 703.45l3.55 3.55l-3.55 3.55l-3.55 -3.55zM875.41 695.95l3.55 3.55l-3.55 3.55l-3.55 -3.55zM875.41 696.87l3.55 3.55l-3.55 3.55l-3.55 -3.55zM875.41 697.78l3.55 3.55l-3.55 3.55l-3.55 -3.55zM875.41 698.70l3.55 3.55l-3.55 3.55l-3.55 -3.55zM875.41 699.62l3.55 3.55l-3.55 3.55l-3.55 -3.55zM875.41 700.53l3.55 3.55l-3.55 3.55l-3.55 -3.55zM875.41 701.45l3.55 3.55l-3.55 3.55l-3.55 -3.55zM945.69 695.95l3.55 3.55l-3.55 3.55l-3.55 -3.55zM945.69 696.81l3.55 3.55l-3.55 3.55l-3.55 -3.55zM945.69 697.66l3.55 3.55l-3.55 3.55l-3.55 -3.55zM945.69 698.52l3.55 3.55l-3.55 3.55l-3.55 -3.55zM945.69 699.38l3.55 3.55l-3.55 3.55l-3.55 -3.55zM945.69 700.24l3.55 3.55l-3.55 3.55l-3.55 -3.55zM945.69 701.09l3.55 3.55l-3.55 3.55l-3.55 -3.55zM945.69 701.95l3.55 3.55l-3.55 3.55l-3.55 -3.55zM1015.97 696.75l3.55 3.55l-3.55 3.55l-3.55 -3.55zM1015.97 697.61l3.55 3.55l-3.55 3.55l-3.55 -3.55zM1015.97 698.46l3.55 3.55l-3.55 3.55l-3.55 -3.55zM1015.97 699.32l3.55 3.55l-3.55 3.55l-3.55 -3.55zM1015.97 700.18l3.55 3.55l-3.55 3.55l-3.55 -3.55zM1015.97 701.04l3.55 3.55l-3.55 3.55l-3.55 -3.55zM1015.97 701.89l3.55 3.55l-3.55 3.55l-3.55 -3.55zM1015.97 702.75l3.55 3.55l-3.55 3.55l-3.55 -3.55zM1086.24 696.95l3.55 3.55l-3.55 3.55l-3.55 -3.55zM1086.24 697.85l3.55 3.55l-3.55 3.55l-3.55 -3.55zM1086.24 698.75l3.55 3.55l-3.55 3.55l-3.55 -3.55zM1086.24 699.65l3.55 3.55l-3.55 3.55l-3.55 -3.55zM1086.24 700.55l3.55 3.55l-3.55 3.55l-3.55 -3.55zM1086.24 701.45l3.55 3.55l-3.55 3.55l-3.55 -3.55zM1226.80 696.15l3.55 3.55l-3.55 3.55l-3.55 -3.55z"/></g>
<rect x="1219.60" y="1051.40" width="16.00" height="47.50" fill="#ff0000" />
<rect x="1219.60" y="1098.90" width="16.00" height="47.40" fill="#0000ff" />
<text x="1199.00" y="1078.75" style="font-size:10.80px;" fill="#ff0000" textLength="20.40" lengthAdjust="spacingAndGlyphs">Q2Y</text>
<text x="1199.90" y="1126.40" style="font-size:10.80px;" fill="#0000ff" textLength="19.40" lengthAdjust="spacingAndGlyphs">R2Y</text>
<text x="1057.80" y="1128.30" style="font-size:22.50px;font-weight:bold;" textLength="76.00" lengthAdjust="spacingAndGlyphs">L VS LH</text>
<rect x="715.50" y="680.60" width="530.80" height="475.00" fill="none" stroke="#333" stroke-width="1.30" stroke-linejoin="round"/>
<line x1="720.80" y1="1155.60" x2="720.80" y2="1165.10" stroke="#333" stroke-width="1.30" />
<text x="720.80" y="1189.10" style="font-size:15.00px;" text-anchor="middle">0.2</text>
<line x1="847.30" y1="1155.60" x2="847.30" y2="1165.10" stroke="#333" stroke-width="1.30" />
<text x="847.30" y="1189.10" style="font-size:15.00px;" text-anchor="middle">0.4</text>
<line x1="973.80" y1="1155.60" x2="973.80" y2="1165.10" stroke="#333" stroke-width="1.30" />
<text x="973.80" y="1189.10" style="font-size:15.00px;" text-anchor="middle">0.6</text>
<line x1="1100.30" y1="1155.60" x2="1100.30" y2="1165.10" stroke="#333" stroke-width="1.30" />
<text x="1100.30" y="1189.10" style="font-size:15.00px;" text-anchor="middle">0.8</text>
<line x1="1226.80" y1="1155.60" x2="1226.80" y2="1165.10" stroke="#333" stroke-width="1.30" />
<text x="1226.80" y="1189.10" style="font-size:15.00px;" text-anchor="middle">1.0</text>
<line x1="715.50" y1="1107.50" x2="706.00" y2="1107.50" stroke="#333" stroke-width="1.30" />
<text transform="translate(693.50,1107.50) rotate(-90)" x="0" y="0" style="font-size:16.20px;" text-anchor="middle" textLength="29.61" lengthAdjust="spacingAndGlyphs">−1.0</text>
<line x1="715.50" y1="1005.20" x2="706.00" y2="1005.20" stroke="#333" stroke-width="1.30" />
<text transform="translate(693.50,1005.20) rotate(-90)" x="0" y="0" style="font-size:16.20px;" text-anchor="middle" textLength="29.61" lengthAdjust="spacingAndGlyphs">−0.5</text>
<line x1="715.50" y1="902.90" x2="706.00" y2="902.90" stroke="#333" stroke-width="1.30" />
<text transform="translate(693.50,902.90) rotate(-90)" x="0" y="0" style="font-size:16.20px;" text-anchor="middle" textLength="20.85" lengthAdjust="spacingAndGlyphs">0.0</text>
<line x1="715.50" y1="800.60" x2="706.00" y2="800.60" stroke="#333" stroke-width="1.30" />
<text transform="translate(693.50,800.60) rotate(-90)" x="0" y="0" style="font-size:16.20px;" text-anchor="middle" textLength="20.85" lengthAdjust="spacingAndGlyphs">0.5</text>
<line x1="715.50" y1="698.30" x2="706.00" y2="698.30" stroke="#333" stroke-width="1.30" />
<text transform="translate(693.50,698.30) rotate(-90)" x="0" y="0" style="font-size:16.20px;" text-anchor="middle" textLength="20.85" lengthAdjust="spacingAndGlyphs">1.0</text>
<text x="917.90" y="1220.50" style="font-size:15px" textLength="124.70" lengthAdjust="spacingAndGlyphs">Similarity(<tspan style="font-weight:bold">y, y</tspan><tspan style="font-weight:bold;font-size:10.5px" dy="3">perm</tspan><tspan dy="-3">)</tspan></text>
<clipPath id="c6"><rect x="1360.20" y="680.60" width="531.10" height="475.00"/></clipPath>
<text x="1296.50" y="659.40" style="font-size:28.50px;font-weight:bold;" textLength="14.50" lengthAdjust="spacingAndGlyphs">F</text>
<text x="1525.90" y="650.20" style="font-size:18.60px;font-weight:bold;" textLength="199.00" lengthAdjust="spacingAndGlyphs">pR2Y = 0.34, pQ2 = 0.01</text>
<line x1="1360.20" y1="699.30" x2="1891.30" y2="699.30" stroke="#0000ff" stroke-width="1.30" />
<line x1="1360.20" y1="756.40" x2="1891.30" y2="756.40" stroke="#ff0000" stroke-width="1.30" />
<g clip-path="url(#c6)"><path fill="#ff0000" d="M1379.47 864.65l3.55 3.55l-3.55 3.55l-3.55 -3.55zM1440.93 838.75l3.55 3.55l-3.55 3.55l-3.55 -3.55zM1440.93 844.95l3.55 3.55l-3.55 3.55l-3.55 -3.55zM1440.93 872.45l3.55 3.55l-3.55 3.55l-3.55 -3.55zM1502.40 791.65l3.55 3.55l-3.55 3.55l-3.55 -3.55zM1502.40 795.15l3.55 3.55l-3.55 3.55l-3.55 -3.55zM1502.40 802.35l3.55 3.55l-3.55 3.55l-3.55 -3.55zM1502.40 803.45l3.55 3.55l-3.55 3.55l-3.55 -3.55zM1502.40 811.45l3.55 3.55l-3.55 3.55l-3.55 -3.55zM1502.40 822.65l3.55 3.55l-3.55 3.55l-3.55 -3.55zM1502.40 830.45l3.55 3.55l-3.55 3.55l-3.55 -3.55zM1502.40 839.25l3.55 3.55l-3.55 3.55l-3.55 -3.55zM1502.40 850.85l3.55 3.55l-3.55 3.55l-3.55 -3.55zM1502.40 857.15l3.55 3.55l-3.55 3.55l-3.55 -3.55zM1502.40 868.95l3.55 3.55l-3.55 3.55l-3.55 -3.55zM1502.40 876.05l3.55 3.55l-3.55 3.55l-3.55 -3.55zM1502.40 896.55l3.55 3.55l-3.55 3.55l-3.55 -3.55zM1502.40 898.25l3.55 3.55l-3.55 3.55l-3.55 -3.55zM1502.40 901.45l3.55 3.55l-3.55 3.55l-3.55 -3.55zM1502.40 926.05l3.55 3.55l-3.55 3.55l-3.55 -3.55zM1502.40 978.45l3.55 3.55l-3.55 3.55l-3.55 -3.55zM1502.40 984.85l3.55 3.55l-3.55 3.55l-3.55 -3.55zM1502.40 1001.95l3.55 3.55l-3.55 3.55l-3.55 -3.55zM1502.40 1025.75l3.55 3.55l-3.55 3.55l-3.55 -3.55zM1563.87 751.45l3.55 3.55l-3.55 3.55l-3.55 -3.55zM1563.87 788.65l3.55 3.55l-3.55 3.55l-3.55 -3.55zM1563.87 800.75l3.55 3.55l-3.55 3.55l-3.55 -3.55zM1563.87 803.45l3.55 3.55l-3.55 3.55l-3.55 -3.55zM1563.87 815.15l3.55 3.55l-3.55 3.55l-3.55 -3.55zM1563.87 817.85l3.55 3.55l-3.55 3.55l-3.55 -3.55zM1563.87 820.55l3.55 3.55l-3.55 3.55l-3.55 -3.55zM1563.87 822.65l3.55 3.55l-3.55 3.55l-3.55 -3.55zM1563.87 829.65l3.55 3.55l-3.55 3.55l-3.55 -3.55zM1563.87 832.85l3.55 3.55l-3.55 3.55l-3.55 -3.55zM1563.87 835.55l3.55 3.55l-3.55 3.55l-3.55 -3.55zM1563.87 838.25l3.55 3.55l-3.55 3.55l-3.55 -3.55zM1563.87 840.85l3.55 3.55l-3.55 3.55l-3.55 -3.55zM1563.87 843.55l3.55 3.55l-3.55 3.55l-3.55 -3.55zM1563.87 846.25l3.55 3.55l-3.55 3.55l-3.55 -3.55zM1563.87 848.95l3.55 3.55l-3.55 3.55l-3.55 -3.55zM1563.87 854.25l3.55 3.55l-3.55 3.55l-3.55 -3.55zM1563.87 857.45l3.55 3.55l-3.55 3.55l-3.55 -3.55zM1563.87 860.15l3.55 3.55l-3.55 3.55l-3.55 -3.55zM1563.87 866.05l3.55 3.55l-3.55 3.55l-3.55 -3.55zM1563.87 871.95l3.55 3.55l-3.55 3.55l-3.55 -3.55zM1563.87 875.75l3.55 3.55l-3.55 3.55l-3.55 -3.55zM1563.87 878.95l3.55 3.55l-3.55 3.55l-3.55 -3.55zM1563.87 882.15l3.55 3.55l-3.55 3.55l-3.55 -3.55zM1563.87 885.35l3.55 3.55l-3.55 3.55l-3.55 -3.55zM1563.87 888.55l3.55 3.55l-3.55 3.55l-3.55 -3.55zM1563.87 891.25l3.55 3.55l-3.55 3.55l-3.55 -3.55zM1563.87 894.45l3.55 3.55l-3.55 3.55l-3.55 -3.55zM1563.87 898.25l3.55 3.55l-3.55 3.55l-3.55 -3.55zM1563.87 901.45l3.55 3.55l-3.55 3.55l-3.55 -3.55zM1563.87 912.15l3.55 3.55l-3.55 3.55l-3.55 -3.55zM1563.87 916.95l3.55 3.55l-3.55 3.55l-3.55 -3.55zM1563.87 922.35l3.55 3.55l-3.55 3.55l-3.55 -3.55zM1563.87 931.45l3.55 3.55l-3.55 3.55l-3.55 -3.55zM1563.87 934.65l3.55 3.55l-3.55 3.55l-3.55 -3.55zM1563.87 939.85l3.55 3.55l-3.55 3.55l-3.55 -3.55zM1563.87 944.15l3.55 3.55l-3.55 3.55l-3.55 -3.55zM1563.87 948.95l3.55 3.55l-3.55 3.55l-3.55 -3.55zM1563.87 966.65l3.55 3.55l-3.55 3.55l-3.55 -3.55zM1563.87 971.95l3.55 3.55l-3.55 3.55l-3.55 -3.55zM1563.87 976.25l3.55 3.55l-3.55 3.55l-3.55 -3.55zM1563.87 979.75l3.55 3.55l-3.55 3.55l-3.55 -3.55zM1563.87 1134.55l3.55 3.55l-3.55 3.55l-3.55 -3.55zM1625.33 761.85l3.55 3.55l-3.55 3.55l-3.55 -3.55zM1625.33 785.95l3.55 3.55l-3.55 3.55l-3.55 -3.55zM1625.33 792.35l3.55 3.55l-3.55 3.55l-3.55 -3.55zM1625.33 798.05l3.55 3.55l-3.55 3.55l-3.55 -3.55zM1625.33 800.75l3.55 3.55l-3.55 3.55l-3.55 -3.55zM1625.33 818.95l3.55 3.55l-3.55 3.55l-3.55 -3.55zM1625.33 826.95l3.55 3.55l-3.55 3.55l-3.55 -3.55zM1625.33 830.75l3.55 3.55l-3.55 3.55l-3.55 -3.55zM1625.33 836.65l3.55 3.55l-3.55 3.55l-3.55 -3.55zM1625.33 839.25l3.55 3.55l-3.55 3.55l-3.55 -3.55zM1625.33 842.45l3.55 3.55l-3.55 3.55l-3.55 -3.55zM1625.33 845.75l3.55 3.55l-3.55 3.55l-3.55 -3.55zM1625.33 848.95l3.55 3.55l-3.55 3.55l-3.55 -3.55zM1625.33 852.15l3.55 3.55l-3.55 3.55l-3.55 -3.55zM1625.33 855.35l3.55 3.55l-3.55 3.55l-3.55 -3.55zM1625.33 858.55l3.55 3.55l-3.55 3.55l-3.55 -3.55zM1625.33 871.45l3.55 3.55l-3.55 3.55l-3.55 -3.55zM1625.33 874.65l3.55 3.55l-3.55 3.55l-3.55 -3.55zM1625.33 885.35l3.55 3.55l-3.55 3.55l-3.55 -3.55zM1625.33 889.65l3.55 3.55l-3.55 3.55l-3.55 -3.55zM1625.33 893.95l3.55 3.55l-3.55 3.55l-3.55 -3.55zM1625.33 896.05l3.55 3.55l-3.55 3.55l-3.55 -3.55zM1625.33 901.45l3.55 3.55l-3.55 3.55l-3.55 -3.55zM1625.33 904.65l3.55 3.55l-3.55 3.55l-3.55 -3.55zM1625.33 911.55l3.55 3.55l-3.55 3.55l-3.55 -3.55zM1625.33 923.95l3.55 3.55l-3.55 3.55l-3.55 -3.55zM1625.33 926.55l3.55 3.55l-3.55 3.55l-3.55 -3.55zM1625.33 930.85l3.55 3.55l-3.55 3.55l-3.55 -3.55zM1625.33 934.05l3.55 3.55l-3.55 3.55l-3.55 -3.55zM1625.33 942.55l3.55 3.55l-3.55 3.55l-3.55 -3.55zM1625.33 947.85l3.55 3.55l-3.55 3.55l-3.55 -3.55zM1625.33 950.55l3.55 3.55l-3.55 3.55l-3.55 -3.55zM1625.33 958.25l3.55 3.55l-3.55 3.55l-3.55 -3.55zM1625.33 969.85l3.55 3.55l-3.55 3.55l-3.55 -3.55zM1625.33 973.05l3.55 3.55l-3.55 3.55l-3.55 -3.55zM1625.33 984.65l3.55 3.55l-3.55 3.55l-3.55 -3.55zM1625.33 1019.15l3.55 3.55l-3.55 3.55l-3.55 -3.55zM1625.33 1026.65l3.55 3.55l-3.55 3.55l-3.55 -3.55zM1625.33 1028.75l3.55 3.55l-3.55 3.55l-3.55 -3.55zM1625.33 1032.55l3.55 3.55l-3.55 3.55l-3.55 -3.55zM1625.33 1049.65l3.55 3.55l-3.55 3.55l-3.55 -3.55zM1625.33 1056.65l3.55 3.55l-3.55 3.55l-3.55 -3.55zM1625.33 1059.85l3.55 3.55l-3.55 3.55l-3.55 -3.55zM1686.80 777.15l3.55 3.55l-3.55 3.55l-3.55 -3.55zM1686.80 780.35l3.55 3.55l-3.55 3.55l-3.55 -3.55zM1686.80 789.45l3.55 3.55l-3.55 3.55l-3.55 -3.55zM1686.80 794.85l3.55 3.55l-3.55 3.55l-3.55 -3.55zM1686.80 799.15l3.55 3.55l-3.55 3.55l-3.55 -3.55zM1686.80 801.25l3.55 3.55l-3.55 3.55l-3.55 -3.55zM1686.80 807.65l3.55 3.55l-3.55 3.55l-3.55 -3.55zM1686.80 817.85l3.55 3.55l-3.55 3.55l-3.55 -3.55zM1686.80 823.75l3.55 3.55l-3.55 3.55l-3.55 -3.55zM1686.80 832.35l3.55 3.55l-3.55 3.55l-3.55 -3.55zM1686.80 835.05l3.55 3.55l-3.55 3.55l-3.55 -3.55zM1686.80 837.65l3.55 3.55l-3.55 3.55l-3.55 -3.55zM1686.80 846.25l3.55 3.55l-3.55 3.55l-3.55 -3.55zM1686.80 849.45l3.55 3.55l-3.55 3.55l-3.55 -3.55zM1686.80 852.65l3.55 3.55l-3.55 3.55l-3.55 -3.55zM1686.80 855.85l3.55 3.55l-3.55 3.55l-3.55 -3.55zM1686.80 870.35l3.55 3.55l-3.55 3.55l-3.55 -3.55zM1686.80 873.05l3.55 3.55l-3.55 3.55l-3.55 -3.55zM1686.80 883.25l3.55 3.55l-3.55 3.55l-3.55 -3.55zM1686.80 891.25l3.55 3.55l-3.55 3.55l-3.55 -3.55zM1686.80 893.95l3.55 3.55l-3.55 3.55l-3.55 -3.55zM1686.80 897.15l3.55 3.55l-3.55 3.55l-3.55 -3.55zM1686.80 905.15l3.55 3.55l-3.55 3.55l-3.55 -3.55zM1686.80 907.85l3.55 3.55l-3.55 3.55l-3.55 -3.55zM1686.80 910.55l3.55 3.55l-3.55 3.55l-3.55 -3.55zM1686.80 928.75l3.55 3.55l-3.55 3.55l-3.55 -3.55zM1686.80 947.65l3.55 3.55l-3.55 3.55l-3.55 -3.55zM1686.80 972.75l3.55 3.55l-3.55 3.55l-3.55 -3.55zM1686.80 1007.35l3.55 3.55l-3.55 3.55l-3.55 -3.55zM1686.80 1018.25l3.55 3.55l-3.55 3.55l-3.55 -3.55zM1686.80 1042.15l3.55 3.55l-3.55 3.55l-3.55 -3.55zM1686.80 1064.65l3.55 3.55l-3.55 3.55l-3.55 -3.55zM1748.27 889.95l3.55 3.55l-3.55 3.55l-3.55 -3.55zM1748.27 958.25l3.55 3.55l-3.55 3.55l-3.55 -3.55zM1871.20 752.85l3.55 3.55l-3.55 3.55l-3.55 -3.55z"/><path fill="#0000ff" d="M1379.47 695.75l3.55 3.55l-3.55 3.55l-3.55 -3.55zM1440.93 695.75l3.55 3.55l-3.55 3.55l-3.55 -3.55zM1502.40 695.25l3.55 3.55l-3.55 3.55l-3.55 -3.55zM1502.40 696.45l3.55 3.55l-3.55 3.55l-3.55 -3.55zM1563.87 695.25l3.55 3.55l-3.55 3.55l-3.55 -3.55zM1563.87 696.45l3.55 3.55l-3.55 3.55l-3.55 -3.55zM1625.33 695.25l3.55 3.55l-3.55 3.55l-3.55 -3.55zM1625.33 696.45l3.55 3.55l-3.55 3.55l-3.55 -3.55zM1686.80 695.25l3.55 3.55l-3.55 3.55l-3.55 -3.55zM1686.80 696.45l3.55 3.55l-3.55 3.55l-3.55 -3.55zM1748.27 695.75l3.55 3.55l-3.55 3.55l-3.55 -3.55zM1871.20 695.75l3.55 3.55l-3.55 3.55l-3.55 -3.55z"/></g>
<rect x="1864.60" y="1051.40" width="16.00" height="47.50" fill="#ff0000" />
<rect x="1864.60" y="1098.90" width="16.00" height="47.40" fill="#0000ff" />
<text x="1844.00" y="1078.75" style="font-size:10.80px;" fill="#ff0000" textLength="20.40" lengthAdjust="spacingAndGlyphs">Q2Y</text>
<text x="1844.90" y="1126.40" style="font-size:10.80px;" fill="#0000ff" textLength="19.40" lengthAdjust="spacingAndGlyphs">R2Y</text>
<text x="1712.20" y="1131.30" style="font-size:22.50px;font-weight:bold;" textLength="88.20" lengthAdjust="spacingAndGlyphs">H VS HH</text>
<rect x="1360.20" y="680.60" width="531.10" height="475.00" fill="none" stroke="#333" stroke-width="1.30" stroke-linejoin="round"/>
<line x1="1428.64" y1="1155.60" x2="1428.64" y2="1165.10" stroke="#333" stroke-width="1.30" />
<text x="1428.64" y="1189.10" style="font-size:15.00px;" text-anchor="middle">0.2</text>
<line x1="1539.28" y1="1155.60" x2="1539.28" y2="1165.10" stroke="#333" stroke-width="1.30" />
<text x="1539.28" y="1189.10" style="font-size:15.00px;" text-anchor="middle">0.4</text>
<line x1="1649.92" y1="1155.60" x2="1649.92" y2="1165.10" stroke="#333" stroke-width="1.30" />
<text x="1649.92" y="1189.10" style="font-size:15.00px;" text-anchor="middle">0.6</text>
<line x1="1760.56" y1="1155.60" x2="1760.56" y2="1165.10" stroke="#333" stroke-width="1.30" />
<text x="1760.56" y="1189.10" style="font-size:15.00px;" text-anchor="middle">0.8</text>
<line x1="1871.20" y1="1155.60" x2="1871.20" y2="1165.10" stroke="#333" stroke-width="1.30" />
<text x="1871.20" y="1189.10" style="font-size:15.00px;" text-anchor="middle">1.0</text>
<line x1="1360.20" y1="1069.20" x2="1350.70" y2="1069.20" stroke="#333" stroke-width="1.30" />
<text transform="translate(1339.00,1069.20) rotate(-90)" x="0" y="0" style="font-size:16.20px;" text-anchor="middle" textLength="29.61" lengthAdjust="spacingAndGlyphs">−1.0</text>
<line x1="1360.20" y1="976.40" x2="1350.70" y2="976.40" stroke="#333" stroke-width="1.30" />
<text transform="translate(1339.00,976.40) rotate(-90)" x="0" y="0" style="font-size:16.20px;" text-anchor="middle" textLength="29.61" lengthAdjust="spacingAndGlyphs">−0.5</text>
<line x1="1360.20" y1="883.60" x2="1350.70" y2="883.60" stroke="#333" stroke-width="1.30" />
<text transform="translate(1339.00,883.60) rotate(-90)" x="0" y="0" style="font-size:16.20px;" text-anchor="middle" textLength="20.85" lengthAdjust="spacingAndGlyphs">0.0</text>
<line x1="1360.20" y1="790.80" x2="1350.70" y2="790.80" stroke="#333" stroke-width="1.30" />
<text transform="translate(1339.00,790.80) rotate(-90)" x="0" y="0" style="font-size:16.20px;" text-anchor="middle" textLength="20.85" lengthAdjust="spacingAndGlyphs">0.5</text>
<line x1="1360.20" y1="698.00" x2="1350.70" y2="698.00" stroke="#333" stroke-width="1.30" />
<text transform="translate(1339.00,698.00) rotate(-90)" x="0" y="0" style="font-size:16.20px;" text-anchor="middle" textLength="20.85" lengthAdjust="spacingAndGlyphs">1.0</text>
<text x="1563.50" y="1220.50" style="font-size:15px" textLength="123.80" lengthAdjust="spacingAndGlyphs">Similarity(<tspan style="font-weight:bold">y, y</tspan><tspan style="font-weight:bold;font-size:10.5px" dy="3">perm</tspan><tspan dy="-3">)</tspan></text>
<clipPath id="c7"><rect x="70.50" y="1304.50" width="530.60" height="475.30"/></clipPath>
<text x="13.80" y="1286.20" style="font-size:29.50px;font-weight:bold;" textLength="21.00" lengthAdjust="spacingAndGlyphs">G</text>
<text x="225.00" y="1274.00" style="font-size:18.60px;font-weight:bold;" textLength="221.00" lengthAdjust="spacingAndGlyphs">pR2Y = 0.015, pQ2 = 0.005</text>
<line x1="70.50" y1="1323.00" x2="601.10" y2="1323.00" stroke="#0000ff" stroke-width="1.30" />
<line x1="70.50" y1="1361.60" x2="601.10" y2="1361.60" stroke="#ff0000" stroke-width="1.30" />
<g clip-path="url(#c7)"><path fill="#ff0000" d="M90.61 1456.05l3.55 3.55l-3.55 3.55l-3.55 -3.55zM90.61 1477.15l3.55 3.55l-3.55 3.55l-3.55 -3.55zM90.61 1483.05l3.55 3.55l-3.55 3.55l-3.55 -3.55zM90.61 1524.35l3.55 3.55l-3.55 3.55l-3.55 -3.55zM90.61 1589.95l3.55 3.55l-3.55 3.55l-3.55 -3.55zM160.67 1467.25l3.55 3.55l-3.55 3.55l-3.55 -3.55zM160.67 1472.15l3.55 3.55l-3.55 3.55l-3.55 -3.55zM160.67 1486.25l3.55 3.55l-3.55 3.55l-3.55 -3.55zM160.67 1502.85l3.55 3.55l-3.55 3.55l-3.55 -3.55zM160.67 1511.15l3.55 3.55l-3.55 3.55l-3.55 -3.55zM160.67 1522.15l3.55 3.55l-3.55 3.55l-3.55 -3.55zM160.67 1527.55l3.55 3.55l-3.55 3.55l-3.55 -3.55zM160.67 1534.45l3.55 3.55l-3.55 3.55l-3.55 -3.55zM160.67 1538.25l3.55 3.55l-3.55 3.55l-3.55 -3.55zM160.67 1561.85l3.55 3.55l-3.55 3.55l-3.55 -3.55zM160.67 1567.15l3.55 3.55l-3.55 3.55l-3.55 -3.55zM160.67 1572.55l3.55 3.55l-3.55 3.55l-3.55 -3.55zM160.67 1586.45l3.55 3.55l-3.55 3.55l-3.55 -3.55zM160.67 1594.45l3.55 3.55l-3.55 3.55l-3.55 -3.55zM160.67 1597.15l3.55 3.55l-3.55 3.55l-3.55 -3.55zM160.67 1599.35l3.55 3.55l-3.55 3.55l-3.55 -3.55zM160.67 1616.45l3.55 3.55l-3.55 3.55l-3.55 -3.55zM160.67 1626.35l3.55 3.55l-3.55 3.55l-3.55 -3.55zM160.67 1636.45l3.55 3.55l-3.55 3.55l-3.55 -3.55zM160.67 1662.55l3.55 3.55l-3.55 3.55l-3.55 -3.55zM160.67 1686.85l3.55 3.55l-3.55 3.55l-3.55 -3.55zM230.72 1439.95l3.55 3.55l-3.55 3.55l-3.55 -3.55zM230.72 1442.45l3.55 3.55l-3.55 3.55l-3.55 -3.55zM230.72 1481.45l3.55 3.55l-3.55 3.55l-3.55 -3.55zM230.72 1486.85l3.55 3.55l-3.55 3.55l-3.55 -3.55zM230.72 1492.15l3.55 3.55l-3.55 3.55l-3.55 -3.55zM230.72 1498.05l3.55 3.55l-3.55 3.55l-3.55 -3.55zM230.72 1510.35l3.55 3.55l-3.55 3.55l-3.55 -3.55zM230.72 1513.05l3.55 3.55l-3.55 3.55l-3.55 -3.55zM230.72 1521.05l3.55 3.55l-3.55 3.55l-3.55 -3.55zM230.72 1524.85l3.55 3.55l-3.55 3.55l-3.55 -3.55zM230.72 1532.35l3.55 3.55l-3.55 3.55l-3.55 -3.55zM230.72 1540.95l3.55 3.55l-3.55 3.55l-3.55 -3.55zM230.72 1544.65l3.55 3.55l-3.55 3.55l-3.55 -3.55zM230.72 1548.45l3.55 3.55l-3.55 3.55l-3.55 -3.55zM230.72 1552.15l3.55 3.55l-3.55 3.55l-3.55 -3.55zM230.72 1555.35l3.55 3.55l-3.55 3.55l-3.55 -3.55zM230.72 1563.95l3.55 3.55l-3.55 3.55l-3.55 -3.55zM230.72 1573.05l3.55 3.55l-3.55 3.55l-3.55 -3.55zM230.72 1581.35l3.55 3.55l-3.55 3.55l-3.55 -3.55zM230.72 1590.75l3.55 3.55l-3.55 3.55l-3.55 -3.55zM230.72 1596.05l3.55 3.55l-3.55 3.55l-3.55 -3.55zM230.72 1601.45l3.55 3.55l-3.55 3.55l-3.55 -3.55zM230.72 1606.85l3.55 3.55l-3.55 3.55l-3.55 -3.55zM230.72 1612.15l3.55 3.55l-3.55 3.55l-3.55 -3.55zM230.72 1626.05l3.55 3.55l-3.55 3.55l-3.55 -3.55zM230.72 1635.05l3.55 3.55l-3.55 3.55l-3.55 -3.55zM230.72 1638.85l3.55 3.55l-3.55 3.55l-3.55 -3.55zM230.72 1641.65l3.55 3.55l-3.55 3.55l-3.55 -3.55zM230.72 1654.35l3.55 3.55l-3.55 3.55l-3.55 -3.55zM230.72 1671.15l3.55 3.55l-3.55 3.55l-3.55 -3.55zM230.72 1673.95l3.55 3.55l-3.55 3.55l-3.55 -3.55zM230.72 1707.75l3.55 3.55l-3.55 3.55l-3.55 -3.55zM300.78 1401.65l3.55 3.55l-3.55 3.55l-3.55 -3.55zM300.78 1441.25l3.55 3.55l-3.55 3.55l-3.55 -3.55zM300.78 1449.25l3.55 3.55l-3.55 3.55l-3.55 -3.55zM300.78 1455.35l3.55 3.55l-3.55 3.55l-3.55 -3.55zM300.78 1458.25l3.55 3.55l-3.55 3.55l-3.55 -3.55zM300.78 1471.25l3.55 3.55l-3.55 3.55l-3.55 -3.55zM300.78 1478.95l3.55 3.55l-3.55 3.55l-3.55 -3.55zM300.78 1487.75l3.55 3.55l-3.55 3.55l-3.55 -3.55zM300.78 1491.85l3.55 3.55l-3.55 3.55l-3.55 -3.55zM300.78 1497.75l3.55 3.55l-3.55 3.55l-3.55 -3.55zM300.78 1501.35l3.55 3.55l-3.55 3.55l-3.55 -3.55zM300.78 1504.25l3.55 3.55l-3.55 3.55l-3.55 -3.55zM300.78 1507.25l3.55 3.55l-3.55 3.55l-3.55 -3.55zM300.78 1510.75l3.55 3.55l-3.55 3.55l-3.55 -3.55zM300.78 1514.25l3.55 3.55l-3.55 3.55l-3.55 -3.55zM300.78 1518.95l3.55 3.55l-3.55 3.55l-3.55 -3.55zM300.78 1531.35l3.55 3.55l-3.55 3.55l-3.55 -3.55zM300.78 1537.85l3.55 3.55l-3.55 3.55l-3.55 -3.55zM300.78 1540.25l3.55 3.55l-3.55 3.55l-3.55 -3.55zM300.78 1549.05l3.55 3.55l-3.55 3.55l-3.55 -3.55zM300.78 1554.35l3.55 3.55l-3.55 3.55l-3.55 -3.55zM300.78 1557.85l3.55 3.55l-3.55 3.55l-3.55 -3.55zM300.78 1562.05l3.55 3.55l-3.55 3.55l-3.55 -3.55zM300.78 1565.55l3.55 3.55l-3.55 3.55l-3.55 -3.55zM300.78 1572.65l3.55 3.55l-3.55 3.55l-3.55 -3.55zM300.78 1575.55l3.55 3.55l-3.55 3.55l-3.55 -3.55zM300.78 1581.45l3.55 3.55l-3.55 3.55l-3.55 -3.55zM300.78 1583.85l3.55 3.55l-3.55 3.55l-3.55 -3.55zM300.78 1589.75l3.55 3.55l-3.55 3.55l-3.55 -3.55zM300.78 1593.25l3.55 3.55l-3.55 3.55l-3.55 -3.55zM300.78 1596.75l3.55 3.55l-3.55 3.55l-3.55 -3.55zM300.78 1600.35l3.55 3.55l-3.55 3.55l-3.55 -3.55zM300.78 1609.15l3.55 3.55l-3.55 3.55l-3.55 -3.55zM300.78 1612.15l3.55 3.55l-3.55 3.55l-3.55 -3.55zM300.78 1619.15l3.55 3.55l-3.55 3.55l-3.55 -3.55zM300.78 1622.15l3.55 3.55l-3.55 3.55l-3.55 -3.55zM300.78 1628.65l3.55 3.55l-3.55 3.55l-3.55 -3.55zM300.78 1632.15l3.55 3.55l-3.55 3.55l-3.55 -3.55zM300.78 1634.95l3.55 3.55l-3.55 3.55l-3.55 -3.55zM300.78 1637.45l3.55 3.55l-3.55 3.55l-3.55 -3.55zM300.78 1642.55l3.55 3.55l-3.55 3.55l-3.55 -3.55zM300.78 1647.55l3.55 3.55l-3.55 3.55l-3.55 -3.55zM300.78 1657.55l3.55 3.55l-3.55 3.55l-3.55 -3.55zM300.78 1660.55l3.55 3.55l-3.55 3.55l-3.55 -3.55zM300.78 1676.65l3.55 3.55l-3.55 3.55l-3.55 -3.55zM300.78 1683.85l3.55 3.55l-3.55 3.55l-3.55 -3.55zM300.78 1697.75l3.55 3.55l-3.55 3.55l-3.55 -3.55zM300.78 1712.25l3.55 3.55l-3.55 3.55l-3.55 -3.55zM300.78 1720.25l3.55 3.55l-3.55 3.55l-3.55 -3.55zM300.78 1756.45l3.55 3.55l-3.55 3.55l-3.55 -3.55zM300.78 1758.95l3.55 3.55l-3.55 3.55l-3.55 -3.55zM370.83 1466.55l3.55 3.55l-3.55 3.55l-3.55 -3.55zM370.83 1470.05l3.55 3.55l-3.55 3.55l-3.55 -3.55zM370.83 1483.05l3.55 3.55l-3.55 3.55l-3.55 -3.55zM370.83 1485.95l3.55 3.55l-3.55 3.55l-3.55 -3.55zM370.83 1499.95l3.55 3.55l-3.55 3.55l-3.55 -3.55zM370.83 1514.25l3.55 3.55l-3.55 3.55l-3.55 -3.55zM370.83 1520.15l3.55 3.55l-3.55 3.55l-3.55 -3.55zM370.83 1523.15l3.55 3.55l-3.55 3.55l-3.55 -3.55zM370.83 1526.05l3.55 3.55l-3.55 3.55l-3.55 -3.55zM370.83 1533.15l3.55 3.55l-3.55 3.55l-3.55 -3.55zM370.83 1536.65l3.55 3.55l-3.55 3.55l-3.55 -3.55zM370.83 1540.25l3.55 3.55l-3.55 3.55l-3.55 -3.55zM370.83 1547.25l3.55 3.55l-3.55 3.55l-3.55 -3.55zM370.83 1556.75l3.55 3.55l-3.55 3.55l-3.55 -3.55zM370.83 1559.05l3.55 3.55l-3.55 3.55l-3.55 -3.55zM370.83 1572.05l3.55 3.55l-3.55 3.55l-3.55 -3.55zM370.83 1585.05l3.55 3.55l-3.55 3.55l-3.55 -3.55zM370.83 1596.75l3.55 3.55l-3.55 3.55l-3.55 -3.55zM370.83 1600.95l3.55 3.55l-3.55 3.55l-3.55 -3.55zM370.83 1609.75l3.55 3.55l-3.55 3.55l-3.55 -3.55zM370.83 1619.15l3.55 3.55l-3.55 3.55l-3.55 -3.55zM370.83 1622.75l3.55 3.55l-3.55 3.55l-3.55 -3.55zM370.83 1626.25l3.55 3.55l-3.55 3.55l-3.55 -3.55zM370.83 1636.45l3.55 3.55l-3.55 3.55l-3.55 -3.55zM370.83 1645.05l3.55 3.55l-3.55 3.55l-3.55 -3.55zM370.83 1670.65l3.55 3.55l-3.55 3.55l-3.55 -3.55zM440.89 1442.65l3.55 3.55l-3.55 3.55l-3.55 -3.55zM440.89 1493.05l3.55 3.55l-3.55 3.55l-3.55 -3.55zM440.89 1502.25l3.55 3.55l-3.55 3.55l-3.55 -3.55zM440.89 1518.95l3.55 3.55l-3.55 3.55l-3.55 -3.55zM440.89 1547.25l3.55 3.55l-3.55 3.55l-3.55 -3.55zM440.89 1550.85l3.55 3.55l-3.55 3.55l-3.55 -3.55zM581.00 1358.05l3.55 3.55l-3.55 3.55l-3.55 -3.55z"/><path fill="#0000ff" d="M90.61 1322.65l3.55 3.55l-3.55 3.55l-3.55 -3.55zM90.61 1324.25l3.55 3.55l-3.55 3.55l-3.55 -3.55zM160.67 1321.45l3.55 3.55l-3.55 3.55l-3.55 -3.55zM160.67 1322.30l3.55 3.55l-3.55 3.55l-3.55 -3.55zM160.67 1323.15l3.55 3.55l-3.55 3.55l-3.55 -3.55zM160.67 1324.00l3.55 3.55l-3.55 3.55l-3.55 -3.55zM160.67 1324.85l3.55 3.55l-3.55 3.55l-3.55 -3.55zM230.72 1320.45l3.55 3.55l-3.55 3.55l-3.55 -3.55zM230.72 1321.33l3.55 3.55l-3.55 3.55l-3.55 -3.55zM230.72 1322.21l3.55 3.55l-3.55 3.55l-3.55 -3.55zM230.72 1323.09l3.55 3.55l-3.55 3.55l-3.55 -3.55zM230.72 1323.97l3.55 3.55l-3.55 3.55l-3.55 -3.55zM230.72 1324.85l3.55 3.55l-3.55 3.55l-3.55 -3.55zM300.78 1320.45l3.55 3.55l-3.55 3.55l-3.55 -3.55zM300.78 1321.26l3.55 3.55l-3.55 3.55l-3.55 -3.55zM300.78 1322.08l3.55 3.55l-3.55 3.55l-3.55 -3.55zM300.78 1322.89l3.55 3.55l-3.55 3.55l-3.55 -3.55zM300.78 1323.71l3.55 3.55l-3.55 3.55l-3.55 -3.55zM300.78 1324.52l3.55 3.55l-3.55 3.55l-3.55 -3.55zM300.78 1325.34l3.55 3.55l-3.55 3.55l-3.55 -3.55zM300.78 1326.15l3.55 3.55l-3.55 3.55l-3.55 -3.55zM370.83 1322.05l3.55 3.55l-3.55 3.55l-3.55 -3.55zM370.83 1322.85l3.55 3.55l-3.55 3.55l-3.55 -3.55zM370.83 1323.65l3.55 3.55l-3.55 3.55l-3.55 -3.55zM370.83 1324.45l3.55 3.55l-3.55 3.55l-3.55 -3.55zM440.89 1322.05l3.55 3.55l-3.55 3.55l-3.55 -3.55zM581.00 1319.45l3.55 3.55l-3.55 3.55l-3.55 -3.55z"/></g>
<rect x="574.90" y="1675.30" width="16.00" height="47.50" fill="#ff0000" />
<rect x="574.90" y="1722.80" width="16.00" height="47.40" fill="#0000ff" />
<text x="554.30" y="1702.65" style="font-size:10.80px;" fill="#ff0000" textLength="20.40" lengthAdjust="spacingAndGlyphs">Q2Y</text>
<text x="555.20" y="1750.30" style="font-size:10.80px;" fill="#0000ff" textLength="19.40" lengthAdjust="spacingAndGlyphs">R2Y</text>
<text x="412.40" y="1759.50" style="font-size:22.50px;font-weight:bold;" textLength="76.60" lengthAdjust="spacingAndGlyphs">L VS LH</text>
<rect x="70.50" y="1304.50" width="530.60" height="475.30" fill="none" stroke="#333" stroke-width="1.30" stroke-linejoin="round"/>
<line x1="76.60" y1="1779.80" x2="76.60" y2="1789.30" stroke="#333" stroke-width="1.30" />
<text x="76.60" y="1813.00" style="font-size:15.00px;" text-anchor="middle">0.2</text>
<line x1="202.70" y1="1779.80" x2="202.70" y2="1789.30" stroke="#333" stroke-width="1.30" />
<text x="202.70" y="1813.00" style="font-size:15.00px;" text-anchor="middle">0.4</text>
<line x1="328.80" y1="1779.80" x2="328.80" y2="1789.30" stroke="#333" stroke-width="1.30" />
<text x="328.80" y="1813.00" style="font-size:15.00px;" text-anchor="middle">0.6</text>
<line x1="454.90" y1="1779.80" x2="454.90" y2="1789.30" stroke="#333" stroke-width="1.30" />
<text x="454.90" y="1813.00" style="font-size:15.00px;" text-anchor="middle">0.8</text>
<line x1="581.00" y1="1779.80" x2="581.00" y2="1789.30" stroke="#333" stroke-width="1.30" />
<text x="581.00" y="1813.00" style="font-size:15.00px;" text-anchor="middle">1.0</text>
<line x1="70.50" y1="1682.50" x2="61.00" y2="1682.50" stroke="#333" stroke-width="1.30" />
<text transform="translate(48.50,1682.50) rotate(-90)" x="0" y="0" style="font-size:16.20px;" text-anchor="middle" textLength="29.61" lengthAdjust="spacingAndGlyphs">−0.5</text>
<line x1="70.50" y1="1562.40" x2="61.00" y2="1562.40" stroke="#333" stroke-width="1.30" />
<text transform="translate(48.50,1562.40) rotate(-90)" x="0" y="0" style="font-size:16.20px;" text-anchor="middle" textLength="20.85" lengthAdjust="spacingAndGlyphs">0.0</text>
<line x1="70.50" y1="1442.30" x2="61.00" y2="1442.30" stroke="#333" stroke-width="1.30" />
<text transform="translate(48.50,1442.30) rotate(-90)" x="0" y="0" style="font-size:16.20px;" text-anchor="middle" textLength="20.85" lengthAdjust="spacingAndGlyphs">0.5</text>
<line x1="70.50" y1="1322.20" x2="61.00" y2="1322.20" stroke="#333" stroke-width="1.30" />
<text transform="translate(48.50,1322.20) rotate(-90)" x="0" y="0" style="font-size:16.20px;" text-anchor="middle" textLength="20.85" lengthAdjust="spacingAndGlyphs">1.0</text>
<text x="273.70" y="1844.20" style="font-size:15px" textLength="124.30" lengthAdjust="spacingAndGlyphs">Similarity(<tspan style="font-weight:bold">y, y</tspan><tspan style="font-weight:bold;font-size:10.5px" dy="3">perm</tspan><tspan dy="-3">)</tspan></text>
<clipPath id="c8"><rect x="715.60" y="1304.50" width="530.60" height="475.00"/></clipPath>
<text x="660.00" y="1277.00" style="font-size:27.00px;font-weight:bold;">H</text>
<text x="875.10" y="1274.00" style="font-size:18.60px;font-weight:bold;" textLength="210.60" lengthAdjust="spacingAndGlyphs">pR2Y = 0.01, pQ2 = 0.005</text>
<line x1="715.60" y1="1324.00" x2="1246.20" y2="1324.00" stroke="#0000ff" stroke-width="1.30" />
<line x1="715.60" y1="1368.00" x2="1246.20" y2="1368.00" stroke="#ff0000" stroke-width="1.30" />
<g clip-path="url(#c8)"><path fill="#ff0000" d="M735.31 1477.35l3.55 3.55l-3.55 3.55l-3.55 -3.55zM735.31 1490.55l3.55 3.55l-3.55 3.55l-3.55 -3.55zM735.31 1503.55l3.55 3.55l-3.55 3.55l-3.55 -3.55zM735.31 1513.05l3.55 3.55l-3.55 3.55l-3.55 -3.55zM735.31 1532.55l3.55 3.55l-3.55 3.55l-3.55 -3.55zM735.31 1603.75l3.55 3.55l-3.55 3.55l-3.55 -3.55zM805.47 1426.75l3.55 3.55l-3.55 3.55l-3.55 -3.55zM805.47 1456.95l3.55 3.55l-3.55 3.55l-3.55 -3.55zM805.47 1459.15l3.55 3.55l-3.55 3.55l-3.55 -3.55zM805.47 1493.45l3.55 3.55l-3.55 3.55l-3.55 -3.55zM805.47 1501.25l3.55 3.55l-3.55 3.55l-3.55 -3.55zM805.47 1508.95l3.55 3.55l-3.55 3.55l-3.55 -3.55zM805.47 1515.35l3.55 3.55l-3.55 3.55l-3.55 -3.55zM805.47 1523.45l3.55 3.55l-3.55 3.55l-3.55 -3.55zM805.47 1527.15l3.55 3.55l-3.55 3.55l-3.55 -3.55zM805.47 1530.35l3.55 3.55l-3.55 3.55l-3.55 -3.55zM805.47 1532.55l3.55 3.55l-3.55 3.55l-3.55 -3.55zM805.47 1542.15l3.55 3.55l-3.55 3.55l-3.55 -3.55zM805.47 1553.45l3.55 3.55l-3.55 3.55l-3.55 -3.55zM805.47 1555.55l3.55 3.55l-3.55 3.55l-3.55 -3.55zM805.47 1561.45l3.55 3.55l-3.55 3.55l-3.55 -3.55zM805.47 1566.85l3.55 3.55l-3.55 3.55l-3.55 -3.55zM805.47 1570.55l3.55 3.55l-3.55 3.55l-3.55 -3.55zM805.47 1582.35l3.55 3.55l-3.55 3.55l-3.55 -3.55zM805.47 1589.85l3.55 3.55l-3.55 3.55l-3.55 -3.55zM805.47 1595.25l3.55 3.55l-3.55 3.55l-3.55 -3.55zM805.47 1611.85l3.55 3.55l-3.55 3.55l-3.55 -3.55zM805.47 1619.35l3.55 3.55l-3.55 3.55l-3.55 -3.55zM805.47 1628.15l3.55 3.55l-3.55 3.55l-3.55 -3.55zM805.47 1632.25l3.55 3.55l-3.55 3.55l-3.55 -3.55zM805.47 1669.35l3.55 3.55l-3.55 3.55l-3.55 -3.55zM875.62 1418.45l3.55 3.55l-3.55 3.55l-3.55 -3.55zM875.62 1431.85l3.55 3.55l-3.55 3.55l-3.55 -3.55zM875.62 1437.75l3.55 3.55l-3.55 3.55l-3.55 -3.55zM875.62 1440.35l3.55 3.55l-3.55 3.55l-3.55 -3.55zM875.62 1457.85l3.55 3.55l-3.55 3.55l-3.55 -3.55zM875.62 1465.55l3.55 3.55l-3.55 3.55l-3.55 -3.55zM875.62 1473.05l3.55 3.55l-3.55 3.55l-3.55 -3.55zM875.62 1476.25l3.55 3.55l-3.55 3.55l-3.55 -3.55zM875.62 1479.45l3.55 3.55l-3.55 3.55l-3.55 -3.55zM875.62 1482.75l3.55 3.55l-3.55 3.55l-3.55 -3.55zM875.62 1485.35l3.55 3.55l-3.55 3.55l-3.55 -3.55zM875.62 1488.55l3.55 3.55l-3.55 3.55l-3.55 -3.55zM875.62 1491.85l3.55 3.55l-3.55 3.55l-3.55 -3.55zM875.62 1495.05l3.55 3.55l-3.55 3.55l-3.55 -3.55zM875.62 1497.75l3.55 3.55l-3.55 3.55l-3.55 -3.55zM875.62 1500.35l3.55 3.55l-3.55 3.55l-3.55 -3.55zM875.62 1503.05l3.55 3.55l-3.55 3.55l-3.55 -3.55zM875.62 1510.55l3.55 3.55l-3.55 3.55l-3.55 -3.55zM875.62 1518.05l3.55 3.55l-3.55 3.55l-3.55 -3.55zM875.62 1520.75l3.55 3.55l-3.55 3.55l-3.55 -3.55zM875.62 1524.45l3.55 3.55l-3.55 3.55l-3.55 -3.55zM875.62 1527.15l3.55 3.55l-3.55 3.55l-3.55 -3.55zM875.62 1530.35l3.55 3.55l-3.55 3.55l-3.55 -3.55zM875.62 1533.05l3.55 3.55l-3.55 3.55l-3.55 -3.55zM875.62 1538.95l3.55 3.55l-3.55 3.55l-3.55 -3.55zM875.62 1541.65l3.55 3.55l-3.55 3.55l-3.55 -3.55zM875.62 1545.35l3.55 3.55l-3.55 3.55l-3.55 -3.55zM875.62 1551.25l3.55 3.55l-3.55 3.55l-3.55 -3.55zM875.62 1557.15l3.55 3.55l-3.55 3.55l-3.55 -3.55zM875.62 1560.35l3.55 3.55l-3.55 3.55l-3.55 -3.55zM875.62 1569.45l3.55 3.55l-3.55 3.55l-3.55 -3.55zM875.62 1572.15l3.55 3.55l-3.55 3.55l-3.55 -3.55zM875.62 1574.85l3.55 3.55l-3.55 3.55l-3.55 -3.55zM875.62 1577.55l3.55 3.55l-3.55 3.55l-3.55 -3.55zM875.62 1580.75l3.55 3.55l-3.55 3.55l-3.55 -3.55zM875.62 1584.45l3.55 3.55l-3.55 3.55l-3.55 -3.55zM875.62 1593.55l3.55 3.55l-3.55 3.55l-3.55 -3.55zM875.62 1598.15l3.55 3.55l-3.55 3.55l-3.55 -3.55zM875.62 1605.75l3.55 3.55l-3.55 3.55l-3.55 -3.55zM875.62 1608.35l3.55 3.55l-3.55 3.55l-3.55 -3.55zM875.62 1610.85l3.55 3.55l-3.55 3.55l-3.55 -3.55zM875.62 1620.35l3.55 3.55l-3.55 3.55l-3.55 -3.55zM875.62 1631.05l3.55 3.55l-3.55 3.55l-3.55 -3.55zM875.62 1635.85l3.55 3.55l-3.55 3.55l-3.55 -3.55zM875.62 1646.65l3.55 3.55l-3.55 3.55l-3.55 -3.55zM875.62 1693.35l3.55 3.55l-3.55 3.55l-3.55 -3.55zM875.62 1754.85l3.55 3.55l-3.55 3.55l-3.55 -3.55zM945.78 1439.35l3.55 3.55l-3.55 3.55l-3.55 -3.55zM945.78 1448.45l3.55 3.55l-3.55 3.55l-3.55 -3.55zM945.78 1452.15l3.55 3.55l-3.55 3.55l-3.55 -3.55zM945.78 1462.85l3.55 3.55l-3.55 3.55l-3.55 -3.55zM945.78 1470.35l3.55 3.55l-3.55 3.55l-3.55 -3.55zM945.78 1480.55l3.55 3.55l-3.55 3.55l-3.55 -3.55zM945.78 1484.85l3.55 3.55l-3.55 3.55l-3.55 -3.55zM945.78 1488.05l3.55 3.55l-3.55 3.55l-3.55 -3.55zM945.78 1491.25l3.55 3.55l-3.55 3.55l-3.55 -3.55zM945.78 1493.45l3.55 3.55l-3.55 3.55l-3.55 -3.55zM945.78 1510.05l3.55 3.55l-3.55 3.55l-3.55 -3.55zM945.78 1512.15l3.55 3.55l-3.55 3.55l-3.55 -3.55zM945.78 1518.05l3.55 3.55l-3.55 3.55l-3.55 -3.55zM945.78 1521.25l3.55 3.55l-3.55 3.55l-3.55 -3.55zM945.78 1537.85l3.55 3.55l-3.55 3.55l-3.55 -3.55zM945.78 1543.25l3.55 3.55l-3.55 3.55l-3.55 -3.55zM945.78 1546.45l3.55 3.55l-3.55 3.55l-3.55 -3.55zM945.78 1549.15l3.55 3.55l-3.55 3.55l-3.55 -3.55zM945.78 1551.85l3.55 3.55l-3.55 3.55l-3.55 -3.55zM945.78 1554.45l3.55 3.55l-3.55 3.55l-3.55 -3.55zM945.78 1557.75l3.55 3.55l-3.55 3.55l-3.55 -3.55zM945.78 1561.95l3.55 3.55l-3.55 3.55l-3.55 -3.55zM945.78 1568.45l3.55 3.55l-3.55 3.55l-3.55 -3.55zM945.78 1571.15l3.55 3.55l-3.55 3.55l-3.55 -3.55zM945.78 1577.55l3.55 3.55l-3.55 3.55l-3.55 -3.55zM945.78 1580.75l3.55 3.55l-3.55 3.55l-3.55 -3.55zM945.78 1590.35l3.55 3.55l-3.55 3.55l-3.55 -3.55zM945.78 1595.25l3.55 3.55l-3.55 3.55l-3.55 -3.55zM945.78 1604.75l3.55 3.55l-3.55 3.55l-3.55 -3.55zM945.78 1607.85l3.55 3.55l-3.55 3.55l-3.55 -3.55zM945.78 1611.85l3.55 3.55l-3.55 3.55l-3.55 -3.55zM945.78 1615.95l3.55 3.55l-3.55 3.55l-3.55 -3.55zM945.78 1623.55l3.55 3.55l-3.55 3.55l-3.55 -3.55zM945.78 1630.75l3.55 3.55l-3.55 3.55l-3.55 -3.55zM945.78 1637.85l3.55 3.55l-3.55 3.55l-3.55 -3.55zM945.78 1643.45l3.55 3.55l-3.55 3.55l-3.55 -3.55zM945.78 1647.55l3.55 3.55l-3.55 3.55l-3.55 -3.55zM945.78 1665.85l3.55 3.55l-3.55 3.55l-3.55 -3.55zM945.78 1684.15l3.55 3.55l-3.55 3.55l-3.55 -3.55zM945.78 1690.25l3.55 3.55l-3.55 3.55l-3.55 -3.55zM945.78 1706.05l3.55 3.55l-3.55 3.55l-3.55 -3.55zM945.78 1758.45l3.55 3.55l-3.55 3.55l-3.55 -3.55zM1015.93 1403.45l3.55 3.55l-3.55 3.55l-3.55 -3.55zM1015.93 1461.25l3.55 3.55l-3.55 3.55l-3.55 -3.55zM1015.93 1476.85l3.55 3.55l-3.55 3.55l-3.55 -3.55zM1015.93 1478.95l3.55 3.55l-3.55 3.55l-3.55 -3.55zM1015.93 1482.15l3.55 3.55l-3.55 3.55l-3.55 -3.55zM1015.93 1487.35l3.55 3.55l-3.55 3.55l-3.55 -3.55zM1015.93 1499.35l3.55 3.55l-3.55 3.55l-3.55 -3.55zM1015.93 1501.95l3.55 3.55l-3.55 3.55l-3.55 -3.55zM1015.93 1512.75l3.55 3.55l-3.55 3.55l-3.55 -3.55zM1015.93 1515.35l3.55 3.55l-3.55 3.55l-3.55 -3.55zM1015.93 1518.55l3.55 3.55l-3.55 3.55l-3.55 -3.55zM1015.93 1521.85l3.55 3.55l-3.55 3.55l-3.55 -3.55zM1015.93 1525.05l3.55 3.55l-3.55 3.55l-3.55 -3.55zM1015.93 1526.65l3.55 3.55l-3.55 3.55l-3.55 -3.55zM1015.93 1534.15l3.55 3.55l-3.55 3.55l-3.55 -3.55zM1015.93 1543.25l3.55 3.55l-3.55 3.55l-3.55 -3.55zM1015.93 1547.55l3.55 3.55l-3.55 3.55l-3.55 -3.55zM1015.93 1560.95l3.55 3.55l-3.55 3.55l-3.55 -3.55zM1015.93 1576.45l3.55 3.55l-3.55 3.55l-3.55 -3.55zM1015.93 1602.75l3.55 3.55l-3.55 3.55l-3.55 -3.55zM1015.93 1620.55l3.55 3.55l-3.55 3.55l-3.55 -3.55zM1015.93 1621.55l3.55 3.55l-3.55 3.55l-3.55 -3.55zM1015.93 1629.15l3.55 3.55l-3.55 3.55l-3.55 -3.55zM1015.93 1634.25l3.55 3.55l-3.55 3.55l-3.55 -3.55zM1015.93 1665.85l3.55 3.55l-3.55 3.55l-3.55 -3.55zM1086.09 1404.45l3.55 3.55l-3.55 3.55l-3.55 -3.55zM1086.09 1425.35l3.55 3.55l-3.55 3.55l-3.55 -3.55zM1086.09 1431.25l3.55 3.55l-3.55 3.55l-3.55 -3.55zM1086.09 1455.75l3.55 3.55l-3.55 3.55l-3.55 -3.55zM1086.09 1539.75l3.55 3.55l-3.55 3.55l-3.55 -3.55zM1156.24 1416.75l3.55 3.55l-3.55 3.55l-3.55 -3.55zM1226.40 1364.45l3.55 3.55l-3.55 3.55l-3.55 -3.55z"/><path fill="#0000ff" d="M735.31 1322.05l3.55 3.55l-3.55 3.55l-3.55 -3.55zM735.31 1322.85l3.55 3.55l-3.55 3.55l-3.55 -3.55zM735.31 1323.65l3.55 3.55l-3.55 3.55l-3.55 -3.55zM735.31 1324.45l3.55 3.55l-3.55 3.55l-3.55 -3.55zM805.47 1321.45l3.55 3.55l-3.55 3.55l-3.55 -3.55zM805.47 1322.28l3.55 3.55l-3.55 3.55l-3.55 -3.55zM805.47 1323.12l3.55 3.55l-3.55 3.55l-3.55 -3.55zM805.47 1323.95l3.55 3.55l-3.55 3.55l-3.55 -3.55zM805.47 1324.78l3.55 3.55l-3.55 3.55l-3.55 -3.55zM805.47 1325.62l3.55 3.55l-3.55 3.55l-3.55 -3.55zM805.47 1326.45l3.55 3.55l-3.55 3.55l-3.55 -3.55zM875.62 1320.45l3.55 3.55l-3.55 3.55l-3.55 -3.55zM875.62 1321.29l3.55 3.55l-3.55 3.55l-3.55 -3.55zM875.62 1322.12l3.55 3.55l-3.55 3.55l-3.55 -3.55zM875.62 1322.96l3.55 3.55l-3.55 3.55l-3.55 -3.55zM875.62 1323.80l3.55 3.55l-3.55 3.55l-3.55 -3.55zM875.62 1324.64l3.55 3.55l-3.55 3.55l-3.55 -3.55zM875.62 1325.48l3.55 3.55l-3.55 3.55l-3.55 -3.55zM875.62 1326.31l3.55 3.55l-3.55 3.55l-3.55 -3.55zM875.62 1327.15l3.55 3.55l-3.55 3.55l-3.55 -3.55zM945.78 1321.45l3.55 3.55l-3.55 3.55l-3.55 -3.55zM945.78 1322.26l3.55 3.55l-3.55 3.55l-3.55 -3.55zM945.78 1323.08l3.55 3.55l-3.55 3.55l-3.55 -3.55zM945.78 1323.89l3.55 3.55l-3.55 3.55l-3.55 -3.55zM945.78 1324.71l3.55 3.55l-3.55 3.55l-3.55 -3.55zM945.78 1325.52l3.55 3.55l-3.55 3.55l-3.55 -3.55zM945.78 1326.34l3.55 3.55l-3.55 3.55l-3.55 -3.55zM945.78 1327.15l3.55 3.55l-3.55 3.55l-3.55 -3.55zM1015.93 1322.05l3.55 3.55l-3.55 3.55l-3.55 -3.55zM1015.93 1322.88l3.55 3.55l-3.55 3.55l-3.55 -3.55zM1015.93 1323.71l3.55 3.55l-3.55 3.55l-3.55 -3.55zM1015.93 1324.54l3.55 3.55l-3.55 3.55l-3.55 -3.55zM1015.93 1325.36l3.55 3.55l-3.55 3.55l-3.55 -3.55zM1015.93 1326.19l3.55 3.55l-3.55 3.55l-3.55 -3.55zM1015.93 1327.02l3.55 3.55l-3.55 3.55l-3.55 -3.55zM1015.93 1327.85l3.55 3.55l-3.55 3.55l-3.55 -3.55zM1086.09 1322.05l3.55 3.55l-3.55 3.55l-3.55 -3.55zM1086.09 1323.15l3.55 3.55l-3.55 3.55l-3.55 -3.55zM1156.24 1321.45l3.55 3.55l-3.55 3.55l-3.55 -3.55zM1226.40 1320.05l3.55 3.55l-3.55 3.55l-3.55 -3.55z"/></g>
<rect x="1219.60" y="1675.30" width="16.00" height="47.50" fill="#ff0000" />
<rect x="1219.60" y="1722.80" width="16.00" height="47.40" fill="#0000ff" />
<text x="1199.00" y="1702.65" style="font-size:10.80px;" fill="#ff0000" textLength="20.40" lengthAdjust="spacingAndGlyphs">Q2Y</text>
<text x="1199.90" y="1750.30" style="font-size:10.80px;" fill="#0000ff" textLength="19.40" lengthAdjust="spacingAndGlyphs">R2Y</text>
<text x="1052.80" y="1757.90" style="font-size:22.50px;font-weight:bold;" textLength="86.90" lengthAdjust="spacingAndGlyphs">H VS HH</text>
<rect x="715.60" y="1304.50" width="530.60" height="475.00" fill="none" stroke="#333" stroke-width="1.30" stroke-linejoin="round"/>
<line x1="721.28" y1="1779.50" x2="721.28" y2="1789.00" stroke="#333" stroke-width="1.30" />
<text x="721.28" y="1813.00" style="font-size:15.00px;" text-anchor="middle">0.2</text>
<line x1="847.56" y1="1779.50" x2="847.56" y2="1789.00" stroke="#333" stroke-width="1.30" />
<text x="847.56" y="1813.00" style="font-size:15.00px;" text-anchor="middle">0.4</text>
<line x1="973.84" y1="1779.50" x2="973.84" y2="1789.00" stroke="#333" stroke-width="1.30" />
<text x="973.84" y="1813.00" style="font-size:15.00px;" text-anchor="middle">0.6</text>
<line x1="1100.12" y1="1779.50" x2="1100.12" y2="1789.00" stroke="#333" stroke-width="1.30" />
<text x="1100.12" y="1813.00" style="font-size:15.00px;" text-anchor="middle">0.8</text>
<line x1="1226.40" y1="1779.50" x2="1226.40" y2="1789.00" stroke="#333" stroke-width="1.30" />
<text x="1226.40" y="1813.00" style="font-size:15.00px;" text-anchor="middle">1.0</text>
<line x1="715.60" y1="1725.90" x2="706.10" y2="1725.90" stroke="#333" stroke-width="1.30" />
<text transform="translate(693.50,1725.90) rotate(-90)" x="0" y="0" style="font-size:16.20px;" text-anchor="middle" textLength="29.61" lengthAdjust="spacingAndGlyphs">−1.0</text>
<line x1="715.60" y1="1625.00" x2="706.10" y2="1625.00" stroke="#333" stroke-width="1.30" />
<text transform="translate(693.50,1625.00) rotate(-90)" x="0" y="0" style="font-size:16.20px;" text-anchor="middle" textLength="29.61" lengthAdjust="spacingAndGlyphs">−0.5</text>
<line x1="715.60" y1="1524.10" x2="706.10" y2="1524.10" stroke="#333" stroke-width="1.30" />
<text transform="translate(693.50,1524.10) rotate(-90)" x="0" y="0" style="font-size:16.20px;" text-anchor="middle" textLength="20.85" lengthAdjust="spacingAndGlyphs">0.0</text>
<line x1="715.60" y1="1423.20" x2="706.10" y2="1423.20" stroke="#333" stroke-width="1.30" />
<text transform="translate(693.50,1423.20) rotate(-90)" x="0" y="0" style="font-size:16.20px;" text-anchor="middle" textLength="20.85" lengthAdjust="spacingAndGlyphs">0.5</text>
<line x1="715.60" y1="1322.30" x2="706.10" y2="1322.30" stroke="#333" stroke-width="1.30" />
<text transform="translate(693.50,1322.30) rotate(-90)" x="0" y="0" style="font-size:16.20px;" text-anchor="middle" textLength="20.85" lengthAdjust="spacingAndGlyphs">1.0</text>
<text x="918.80" y="1844.20" style="font-size:15px" textLength="123.60" lengthAdjust="spacingAndGlyphs">Similarity(<tspan style="font-weight:bold">y, y</tspan><tspan style="font-weight:bold;font-size:10.5px" dy="3">perm</tspan><tspan dy="-3">)</tspan></text>
<ellipse cx="1532.50" cy="1412.10" rx="147.90" ry="138.50" fill="#ff0000" fill-opacity="0.3" stroke="none"/>
<ellipse cx="1680.20" cy="1412.10" rx="147.90" ry="138.50" fill="#0000ff" fill-opacity="0.3" stroke="none"/>
<ellipse cx="1532.50" cy="1412.10" rx="147.90" ry="138.50" fill="none" stroke="#c42020" stroke-width="1.25"/>
<ellipse cx="1680.20" cy="1412.10" rx="147.90" ry="138.50" fill="none" stroke="#1c1cb8" stroke-width="1.25"/>
<text x="1467.40" y="1423.60" style="font-size:23.50px;" textLength="40.00" lengthAdjust="spacingAndGlyphs">335</text>
<text x="1586.30" y="1420.60" style="font-size:23.50px;" textLength="40.00" lengthAdjust="spacingAndGlyphs">298</text>
<text x="1704.80" y="1422.30" style="font-size:23.50px;" textLength="37.50" lengthAdjust="spacingAndGlyphs">551</text>
<text x="1408.00" y="1264.20" style="font-size:23.50px;" textLength="100.80" lengthAdjust="spacingAndGlyphs" xml:space="preserve">H  vs  HH</text>
<text x="1708.00" y="1264.20" style="font-size:23.50px;" textLength="92.30" lengthAdjust="spacingAndGlyphs" xml:space="preserve">L  vs  LH</text>
<text x="1309.20" y="1278.00" style="font-size:29.50px;font-weight:bold;font-family:'Liberation Serif', 'Times New Roman', serif;" textLength="9.20" lengthAdjust="spacingAndGlyphs">I</text>
<ellipse cx="1515.20" cy="1727.20" rx="148.10" ry="138.00" fill="#ff0000" fill-opacity="0.3" stroke="none"/>
<ellipse cx="1663.30" cy="1727.20" rx="148.10" ry="138.00" fill="#0000ff" fill-opacity="0.3" stroke="none"/>
<ellipse cx="1515.20" cy="1727.20" rx="148.10" ry="138.00" fill="none" stroke="#c42020" stroke-width="1.25"/>
<ellipse cx="1663.30" cy="1727.20" rx="148.10" ry="138.00" fill="none" stroke="#1c1cb8" stroke-width="1.25"/>
<text x="1450.30" y="1738.60" style="font-size:23.50px;" textLength="40.20" lengthAdjust="spacingAndGlyphs">333</text>
<text x="1568.90" y="1736.00" style="font-size:23.50px;" textLength="39.80" lengthAdjust="spacingAndGlyphs">348</text>
<text x="1687.10" y="1736.90" style="font-size:23.50px;" textLength="40.10" lengthAdjust="spacingAndGlyphs">618</text>
<text x="1390.60" y="1578.50" style="font-size:23.50px;" textLength="100.10" lengthAdjust="spacingAndGlyphs" xml:space="preserve">H  vs  HH</text>
<text x="1690.10" y="1578.50" style="font-size:23.50px;" textLength="91.70" lengthAdjust="spacingAndGlyphs" xml:space="preserve">L  vs  LH</text>
<text x="1310.60" y="1600.30" style="font-size:29.50px;font-weight:bold;" textLength="12.00" lengthAdjust="spacingAndGlyphs">J</text>
</svg>
</body></html>
